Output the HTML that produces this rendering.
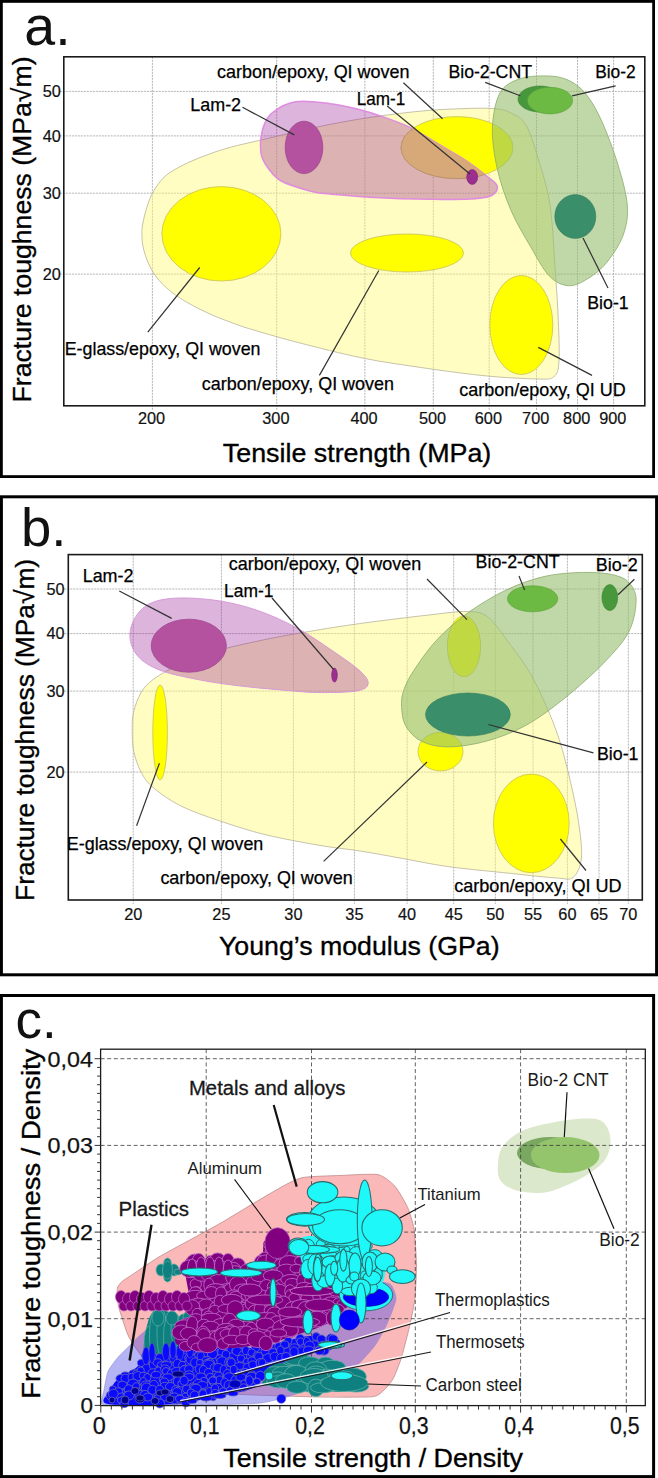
<!DOCTYPE html>
<html><head><meta charset="utf-8"><style>
html,body{margin:0;padding:0;background:#fff;}
body{width:658px;height:1478px;overflow:hidden;position:relative;}
.box{position:absolute;border:3px solid #000;box-sizing:border-box;}
svg{position:absolute;left:0;top:0;}
text{font-family:"Liberation Sans",sans-serif;}
</style></head><body>
<svg width="658" height="1478" viewBox="0 0 658 1478"><line x1="152.4" y1="56.8" x2="152.4" y2="409.8" stroke="#b4b4b4" stroke-width="1" stroke-dasharray="2,1"/><line x1="276.7" y1="56.8" x2="276.7" y2="409.8" stroke="#b4b4b4" stroke-width="1" stroke-dasharray="2,1"/><line x1="364.9" y1="56.8" x2="364.9" y2="409.8" stroke="#b4b4b4" stroke-width="1" stroke-dasharray="2,1"/><line x1="433.3" y1="56.8" x2="433.3" y2="409.8" stroke="#b4b4b4" stroke-width="1" stroke-dasharray="2,1"/><line x1="489.2" y1="56.8" x2="489.2" y2="409.8" stroke="#b4b4b4" stroke-width="1" stroke-dasharray="2,1"/><line x1="536.5" y1="56.8" x2="536.5" y2="409.8" stroke="#b4b4b4" stroke-width="1" stroke-dasharray="2,1"/><line x1="577.5" y1="56.8" x2="577.5" y2="409.8" stroke="#b4b4b4" stroke-width="1" stroke-dasharray="2,1"/><line x1="613.6" y1="56.8" x2="613.6" y2="409.8" stroke="#b4b4b4" stroke-width="1" stroke-dasharray="2,1"/><line x1="59.8" y1="91.4" x2="644.8" y2="91.4" stroke="#b4b4b4" stroke-width="1" stroke-dasharray="2,1"/><line x1="59.8" y1="135.9" x2="644.8" y2="135.9" stroke="#b4b4b4" stroke-width="1" stroke-dasharray="2,1"/><line x1="59.8" y1="193.2" x2="644.8" y2="193.2" stroke="#b4b4b4" stroke-width="1" stroke-dasharray="2,1"/><line x1="59.8" y1="274.1" x2="644.8" y2="274.1" stroke="#b4b4b4" stroke-width="1" stroke-dasharray="2,1"/><path d="M141.9,234.7 C141.8,229.5 142.2,226.0 143.5,220.0 C144.8,214.0 147.4,204.7 149.9,198.7 C152.4,192.7 155.2,188.1 158.4,183.8 C161.6,179.6 164.0,176.7 169.0,173.2 C174.0,169.7 181.4,165.8 188.2,162.6 C194.9,159.4 202.4,156.6 209.5,154.0 C216.6,151.4 221.8,149.6 230.7,147.2 C239.6,144.8 248.6,142.9 262.7,139.6 C276.8,136.3 298.8,130.9 315.0,127.5 C331.2,124.1 343.8,121.6 360.0,119.0 C376.2,116.4 396.5,113.7 412.0,112.0 C427.5,110.3 439.3,109.6 453.0,109.0 C466.7,108.4 484.2,107.8 494.0,108.6 C503.8,109.4 506.7,110.9 512.0,113.6 C517.3,116.3 521.7,117.6 526.0,125.0 C530.3,132.4 534.0,144.7 538.0,158.0 C542.0,171.3 547.2,186.8 550.0,205.0 C552.8,223.2 553.7,248.8 555.0,267.0 C556.3,285.2 557.3,298.3 558.0,314.0 C558.7,329.7 559.7,350.6 559.0,361.0 C558.3,371.4 557.5,373.5 554.0,376.5 C550.5,379.5 550.2,379.2 538.0,379.0 C525.8,378.8 502.2,377.6 481.0,375.4 C459.8,373.2 430.9,369.0 410.7,366.0 C390.5,363.0 378.4,361.3 360.0,357.5 C341.6,353.7 317.5,347.5 300.0,343.0 C282.5,338.5 265.8,333.6 255.0,330.4 C244.2,327.2 243.1,326.9 235.3,324.0 C227.5,321.1 217.1,317.4 208.0,313.1 C198.9,308.9 188.2,303.4 180.6,298.5 C173.0,293.6 167.3,288.8 162.4,283.9 C157.5,279.0 154.5,274.8 151.4,269.3 C148.3,263.8 145.7,256.9 144.1,251.1 C142.5,245.3 142.0,239.9 141.9,234.7Z" fill="rgba(255,250,119,0.45)" stroke="#b8b49a" stroke-width="0.8"/><ellipse cx="221.4" cy="233.8" rx="59.5" ry="47.2" fill="#ffff00" stroke="#c8c060" stroke-width="0.8" /><ellipse cx="407" cy="253" rx="56.5" ry="19" fill="#ffff00" stroke="#c8c060" stroke-width="0.8" /><ellipse cx="521.3" cy="325" rx="31.5" ry="49.5" fill="#ffff00" stroke="#c8c060" stroke-width="0.8" /><ellipse cx="457" cy="147.6" rx="56" ry="31" fill="#ffff00" stroke="#c8c060" stroke-width="0.8" /><clipPath id="cpA"><path d="M260.6,150.0 C260.2,144.0 261.1,134.2 263.0,128.0 C264.9,121.8 266.6,117.4 272.0,113.0 C277.4,108.6 285.9,103.3 295.6,101.8 C305.3,100.2 319.7,102.5 330.0,103.7 C340.3,104.9 348.3,106.8 357.4,109.1 C366.5,111.4 375.6,114.2 384.7,117.4 C393.8,120.6 402.9,123.8 412.0,128.3 C421.1,132.9 430.3,139.2 439.4,144.7 C448.5,150.2 458.6,155.6 466.8,161.1 C475.0,166.6 483.5,173.2 488.6,177.5 C493.7,181.8 497.4,183.9 497.4,187.1 C497.4,190.3 496.0,194.6 488.6,196.7 C481.2,198.8 470.3,199.2 453.0,199.4 C435.7,199.6 405.2,198.9 384.7,198.0 C364.2,197.1 342.3,195.1 330.0,194.0 C317.7,192.9 319.1,193.4 310.8,191.2 C302.5,188.9 288.0,185.1 280.4,180.5 C272.8,175.9 268.5,168.9 265.2,163.8 C261.9,158.7 261.0,156.0 260.6,150.0Z"/></clipPath><path d="M260.6,150.0 C260.2,144.0 261.1,134.2 263.0,128.0 C264.9,121.8 266.6,117.4 272.0,113.0 C277.4,108.6 285.9,103.3 295.6,101.8 C305.3,100.2 319.7,102.5 330.0,103.7 C340.3,104.9 348.3,106.8 357.4,109.1 C366.5,111.4 375.6,114.2 384.7,117.4 C393.8,120.6 402.9,123.8 412.0,128.3 C421.1,132.9 430.3,139.2 439.4,144.7 C448.5,150.2 458.6,155.6 466.8,161.1 C475.0,166.6 483.5,173.2 488.6,177.5 C493.7,181.8 497.4,183.9 497.4,187.1 C497.4,190.3 496.0,194.6 488.6,196.7 C481.2,198.8 470.3,199.2 453.0,199.4 C435.7,199.6 405.2,198.9 384.7,198.0 C364.2,197.1 342.3,195.1 330.0,194.0 C317.7,192.9 319.1,193.4 310.8,191.2 C302.5,188.9 288.0,185.1 280.4,180.5 C272.8,175.9 268.5,168.9 265.2,163.8 C261.9,158.7 261.0,156.0 260.6,150.0Z" fill="rgba(146,22,146,0.32)" stroke="#e08ce0" stroke-width="1.5"/><ellipse cx="457" cy="147.6" rx="56" ry="31" fill="#d7a878" stroke="#b89070" stroke-width="0.8" clip-path="url(#cpA)"/><path d="M492.4,128.0 C492.8,115.2 495.5,101.0 500.0,92.8 C504.5,84.6 511.9,81.8 519.2,79.0 C526.5,76.2 536.1,75.9 543.9,75.9 C551.6,75.9 558.9,76.3 565.7,79.1 C572.5,81.9 579.0,85.9 584.9,92.8 C590.8,99.7 595.8,108.3 601.3,120.2 C606.8,132.1 613.4,149.9 617.7,164.0 C622.0,178.1 626.4,193.2 627.3,205.0 C628.2,216.8 626.6,225.4 623.2,235.0 C619.8,244.6 612.7,255.1 606.8,262.4 C600.9,269.7 594.0,274.9 587.6,278.8 C581.2,282.7 574.9,286.2 568.5,285.7 C562.1,285.2 555.7,282.6 549.3,276.0 C542.9,269.4 536.6,256.9 530.2,246.0 C523.8,235.1 516.5,223.2 511.0,210.4 C505.5,197.6 500.5,183.1 497.4,169.4 C494.3,155.7 492.0,140.8 492.4,128.0Z" fill="rgba(150,190,110,0.6)" stroke="#8cac6c" stroke-width="0.8"/><ellipse cx="304" cy="147.4" rx="18.8" ry="26.2" fill="#b4529f" stroke="#a04890" stroke-width="0.8" /><ellipse cx="472.2" cy="177" rx="5.5" ry="7.4" fill="#9b2f8f" stroke="#802070" stroke-width="0.6" /><ellipse cx="575.3" cy="216.5" rx="20.5" ry="21.9" fill="#3a8f6a" stroke="#2f7a5a" stroke-width="0.6" /><ellipse cx="540" cy="99" rx="22" ry="13" fill="#47973c" stroke="#3a8030" stroke-width="0.6" /><ellipse cx="550" cy="100.6" rx="22.6" ry="13.3" fill="#6cb944" stroke="#5aa038" stroke-width="0.6" /><rect x="63.8" y="56.8" width="581.0" height="349.0" fill="none" stroke="#1a1a1a" stroke-width="1.6"/><line x1="242.5" y1="107.3" x2="294.3" y2="134.9" stroke="#333" stroke-width="1.2" /><line x1="387.2" y1="106" x2="470" y2="174" stroke="#333" stroke-width="1.2" /><line x1="403.4" y1="82.7" x2="442.6" y2="118.8" stroke="#333" stroke-width="1.2" /><line x1="485.2" y1="82.4" x2="520.3" y2="95.8" stroke="#333" stroke-width="1.2" /><line x1="615.6" y1="85.8" x2="572.1" y2="95.8" stroke="#333" stroke-width="1.2" /><line x1="608" y1="288" x2="583" y2="238" stroke="#333" stroke-width="1.2" /><line x1="147.8" y1="332.2" x2="199.7" y2="267.5" stroke="#333" stroke-width="1.2" /><line x1="319.4" y1="375.4" x2="378.8" y2="270.5" stroke="#333" stroke-width="1.2" /><line x1="592" y1="375.4" x2="538.3" y2="347.4" stroke="#333" stroke-width="1.2" /><text x="190.3" y="110.8" font-size="17.9" text-anchor="start" fill="#000" textLength="50.8" lengthAdjust="spacingAndGlyphs" stroke="#000" stroke-width="0.25">Lam-2</text><text x="217.0" y="78.2" font-size="17.9" text-anchor="start" fill="#000" textLength="192.6" lengthAdjust="spacingAndGlyphs" stroke="#000" stroke-width="0.25">carbon/epoxy, QI woven</text><text x="356.7" y="104.8" font-size="17.9" text-anchor="start" fill="#000" textLength="48.5" lengthAdjust="spacingAndGlyphs" stroke="#000" stroke-width="0.25">Lam-1</text><text x="448.4" y="77.6" font-size="17.9" text-anchor="start" fill="#000" textLength="83.6" lengthAdjust="spacingAndGlyphs" stroke="#000" stroke-width="0.25">Bio-2-CNT</text><text x="595.2" y="77.6" font-size="17.9" text-anchor="start" fill="#000" textLength="40.5" lengthAdjust="spacingAndGlyphs" stroke="#000" stroke-width="0.25">Bio-2</text><text x="587.2" y="308.8" font-size="17.9" text-anchor="start" fill="#000" textLength="41.5" lengthAdjust="spacingAndGlyphs" stroke="#000" stroke-width="0.25">Bio-1</text><text x="64.7" y="354.8" font-size="17.9" text-anchor="start" fill="#000" textLength="195.8" lengthAdjust="spacingAndGlyphs" stroke="#000" stroke-width="0.25">E-glass/epoxy, QI woven</text><text x="201.8" y="389.8" font-size="17.9" text-anchor="start" fill="#000" textLength="192.2" lengthAdjust="spacingAndGlyphs" stroke="#000" stroke-width="0.25">carbon/epoxy, QI woven</text><text x="459.3" y="395.6" font-size="17.9" text-anchor="start" fill="#000" textLength="166.5" lengthAdjust="spacingAndGlyphs" stroke="#000" stroke-width="0.25">carbon/epoxy, QI UD</text><text x="151.6" y="423.6" font-size="16.3" text-anchor="middle" fill="#111" stroke="#111" stroke-width="0.2">200</text><text x="275.9" y="423.6" font-size="16.3" text-anchor="middle" fill="#111" stroke="#111" stroke-width="0.2">300</text><text x="364.1" y="423.6" font-size="16.3" text-anchor="middle" fill="#111" stroke="#111" stroke-width="0.2">400</text><text x="432.5" y="423.6" font-size="16.3" text-anchor="middle" fill="#111" stroke="#111" stroke-width="0.2">500</text><text x="488.4" y="423.6" font-size="16.3" text-anchor="middle" fill="#111" stroke="#111" stroke-width="0.2">600</text><text x="535.7" y="423.6" font-size="16.3" text-anchor="middle" fill="#111" stroke="#111" stroke-width="0.2">700</text><text x="576.7" y="423.6" font-size="16.3" text-anchor="middle" fill="#111" stroke="#111" stroke-width="0.2">800</text><text x="612.8" y="423.6" font-size="16.3" text-anchor="middle" fill="#111" stroke="#111" stroke-width="0.2">900</text><text x="60.9" y="97.2" font-size="16.3" text-anchor="end" fill="#111" stroke="#111" stroke-width="0.2">50</text><text x="60.9" y="141.7" font-size="16.3" text-anchor="end" fill="#111" stroke="#111" stroke-width="0.2">40</text><text x="60.9" y="199.0" font-size="16.3" text-anchor="end" fill="#111" stroke="#111" stroke-width="0.2">30</text><text x="60.9" y="279.9" font-size="16.3" text-anchor="end" fill="#111" stroke="#111" stroke-width="0.2">20</text><text x="222.8" y="461.6" font-size="26.5" text-anchor="start" fill="#000" textLength="268.5" lengthAdjust="spacingAndGlyphs" stroke="#000" stroke-width="0.35">Tensile strength (MPa)</text><text x="0" y="0" font-size="26.5" text-anchor="start" fill="#000" textLength="346" lengthAdjust="spacingAndGlyphs" stroke="#000" stroke-width="0.35" transform="translate(31.2,402.5) rotate(-90)">Fracture toughness (MPa√m)</text><text x="24.3" y="44.6" font-size="55.5" text-anchor="start" fill="#111" >a.</text><line x1="133.2" y1="554.6" x2="133.2" y2="904.0" stroke="#b4b4b4" stroke-width="1" stroke-dasharray="2,1"/><line x1="221.4" y1="554.6" x2="221.4" y2="904.0" stroke="#b4b4b4" stroke-width="1" stroke-dasharray="2,1"/><line x1="293.4" y1="554.6" x2="293.4" y2="904.0" stroke="#b4b4b4" stroke-width="1" stroke-dasharray="2,1"/><line x1="354.4" y1="554.6" x2="354.4" y2="904.0" stroke="#b4b4b4" stroke-width="1" stroke-dasharray="2,1"/><line x1="407.1" y1="554.6" x2="407.1" y2="904.0" stroke="#b4b4b4" stroke-width="1" stroke-dasharray="2,1"/><line x1="453.7" y1="554.6" x2="453.7" y2="904.0" stroke="#b4b4b4" stroke-width="1" stroke-dasharray="2,1"/><line x1="495.3" y1="554.6" x2="495.3" y2="904.0" stroke="#b4b4b4" stroke-width="1" stroke-dasharray="2,1"/><line x1="533.0" y1="554.6" x2="533.0" y2="904.0" stroke="#b4b4b4" stroke-width="1" stroke-dasharray="2,1"/><line x1="567.4" y1="554.6" x2="567.4" y2="904.0" stroke="#b4b4b4" stroke-width="1" stroke-dasharray="2,1"/><line x1="599.0" y1="554.6" x2="599.0" y2="904.0" stroke="#b4b4b4" stroke-width="1" stroke-dasharray="2,1"/><line x1="628.3" y1="554.6" x2="628.3" y2="904.0" stroke="#b4b4b4" stroke-width="1" stroke-dasharray="2,1"/><line x1="64.3" y1="589.0" x2="642.3" y2="589.0" stroke="#b4b4b4" stroke-width="1" stroke-dasharray="2,1"/><line x1="64.3" y1="633.6" x2="642.3" y2="633.6" stroke="#b4b4b4" stroke-width="1" stroke-dasharray="2,1"/><line x1="64.3" y1="691.1" x2="642.3" y2="691.1" stroke="#b4b4b4" stroke-width="1" stroke-dasharray="2,1"/><line x1="64.3" y1="772.1" x2="642.3" y2="772.1" stroke="#b4b4b4" stroke-width="1" stroke-dasharray="2,1"/><path d="M132.2,730.0 C132.2,723.4 132.2,718.0 133.7,711.7 C135.2,705.4 138.2,697.3 141.4,692.0 C144.6,686.7 147.7,683.7 152.8,679.8 C157.9,675.9 164.3,672.1 171.8,668.4 C179.3,664.7 189.1,660.8 198.0,657.5 C206.9,654.2 214.2,651.5 225.0,648.6 C235.8,645.7 251.6,642.4 263.0,640.0 C274.4,637.6 280.7,636.4 293.4,634.2 C306.1,632.0 324.6,628.8 339.0,626.6 C353.4,624.4 365.0,622.8 380.0,620.9 C395.0,619.0 414.2,616.6 428.8,615.0 C443.4,613.4 457.6,611.1 467.5,611.5 C477.4,611.9 481.3,611.9 488.4,617.4 C495.5,622.9 503.5,635.6 510.3,644.7 C517.1,653.8 523.5,662.0 529.4,672.0 C535.3,682.0 540.8,693.5 545.8,704.9 C550.8,716.3 555.4,727.6 559.5,740.4 C563.6,753.2 567.2,767.8 570.4,781.5 C573.6,795.2 576.8,809.8 578.6,822.5 C580.4,835.2 582.3,848.9 581.4,858.0 C580.5,867.1 577.3,873.9 573.2,877.2 C569.1,880.5 568.7,878.8 556.8,878.0 C544.9,877.2 520.2,874.4 502.0,872.5 C483.8,870.6 464.4,868.9 447.4,866.5 C430.4,864.1 414.6,860.6 400.0,858.0 C385.4,855.4 373.3,853.1 360.0,851.0 C346.7,848.9 335.7,848.1 320.0,845.4 C304.3,842.7 282.5,838.8 265.9,834.8 C249.3,830.8 234.5,825.9 220.3,821.1 C206.1,816.3 192.0,811.5 180.8,805.9 C169.7,800.3 160.0,793.3 153.4,787.7 C146.8,782.1 144.6,778.6 141.3,772.5 C138.0,766.4 135.2,758.3 133.7,751.2 C132.2,744.1 132.2,736.6 132.2,730.0Z" fill="rgba(255,250,119,0.45)" stroke="#b8b49a" stroke-width="0.8"/><ellipse cx="160.1" cy="732.5" rx="7.3" ry="47.5" fill="#ffff00" stroke="#c8c060" stroke-width="0.8" /><ellipse cx="464" cy="646.3" rx="16.6" ry="30.4" fill="#ffff00" stroke="#c8c060" stroke-width="0.8" /><ellipse cx="440.5" cy="751.6" rx="22.5" ry="19.3" fill="#ffff00" stroke="#c8c060" stroke-width="0.8" /><ellipse cx="531.3" cy="823.4" rx="37.9" ry="49.3" fill="#ffff00" stroke="#c8c060" stroke-width="0.8" /><path d="M129.9,636.4 C129.6,629.8 132.2,622.2 135.8,616.6 C139.4,611.0 144.3,605.9 151.6,602.8 C158.8,599.7 168.1,598.3 179.3,598.0 C190.5,597.7 205.6,598.7 218.8,600.8 C232.0,602.9 245.1,606.1 258.3,610.7 C271.5,615.3 284.6,621.3 297.8,628.5 C311.0,635.7 326.8,646.9 337.3,654.1 C347.8,661.3 355.9,667.0 361.0,671.9 C366.1,676.8 368.8,680.6 368.1,683.8 C367.4,687.0 365.4,689.4 357.0,690.9 C348.6,692.4 330.7,692.7 317.5,692.5 C304.3,692.3 291.2,690.8 278.0,689.7 C264.8,688.6 251.7,687.4 238.5,685.8 C225.3,684.1 212.2,682.4 199.0,679.8 C185.8,677.2 169.7,674.0 159.5,670.0 C149.3,666.0 142.7,661.7 137.8,656.1 C132.9,650.5 130.2,643.0 129.9,636.4Z" fill="rgba(146,22,146,0.32)" stroke="#d89ad8" stroke-width="1"/><path d="M401.6,706.2 C401.9,712.0 402.3,719.7 405.5,725.5 C408.7,731.3 413.9,737.4 421.0,741.0 C428.1,744.6 437.1,746.9 448.1,746.9 C459.1,746.9 474.0,744.6 486.9,741.0 C499.8,737.4 512.8,732.6 525.7,725.5 C538.6,718.4 551.5,708.7 564.4,698.4 C577.3,688.1 592.5,674.5 603.2,663.5 C613.9,652.5 622.9,642.8 628.4,632.5 C633.9,622.2 635.8,609.6 636.1,601.5 C636.4,593.4 633.8,588.5 630.3,584.1 C626.8,579.7 622.5,577.2 614.8,575.2 C607.0,573.2 595.4,572.2 583.8,572.4 C572.2,572.6 557.9,573.4 545.0,576.3 C532.1,579.2 519.2,583.8 506.3,589.9 C493.4,596.0 479.1,604.7 467.5,613.1 C455.9,621.5 445.5,630.6 436.5,640.3 C427.5,650.0 418.8,662.9 413.3,671.3 C407.8,679.7 405.6,684.9 403.6,690.7 C401.7,696.5 401.3,700.4 401.6,706.2Z" fill="rgba(150,190,110,0.6)" stroke="#8cac6c" stroke-width="0.8"/><ellipse cx="188.8" cy="645.7" rx="37.6" ry="26.5" fill="#b4529f" stroke="#a04890" stroke-width="0.8" /><ellipse cx="334.5" cy="675.1" rx="2.8" ry="7" fill="#9b2f8f" stroke="#802070" stroke-width="0.6" /><ellipse cx="467.9" cy="714.5" rx="42.4" ry="21.5" fill="#3a8f6a" stroke="#2f7a5a" stroke-width="0.6" /><ellipse cx="532.6" cy="598.8" rx="25.2" ry="13" fill="#6cb944" stroke="#5aa038" stroke-width="0.6" /><ellipse cx="609.8" cy="597.6" rx="7.9" ry="13" fill="#47973c" stroke="#3a8030" stroke-width="0.6" /><rect x="68.3" y="554.6" width="574.0" height="345.4" fill="none" stroke="#1a1a1a" stroke-width="1.6"/><line x1="119.3" y1="591" x2="171.7" y2="618.4" stroke="#333" stroke-width="1.2" /><line x1="272" y1="598" x2="333.6" y2="669.5" stroke="#333" stroke-width="1.2" /><line x1="427" y1="579" x2="467" y2="619.7" stroke="#333" stroke-width="1.2" /><line x1="519" y1="576" x2="524.6" y2="590" stroke="#333" stroke-width="1.2" /><line x1="634.4" y1="579.2" x2="618" y2="594.7" stroke="#333" stroke-width="1.2" /><line x1="593.4" y1="752.8" x2="488.4" y2="724.5" stroke="#333" stroke-width="1.2" /><line x1="136.6" y1="825.8" x2="159.4" y2="763.3" stroke="#333" stroke-width="1.2" /><line x1="323.6" y1="861.4" x2="427" y2="762" stroke="#333" stroke-width="1.2" /><line x1="586" y1="870.5" x2="560.4" y2="839" stroke="#333" stroke-width="1.2" /><text x="82.7" y="581.5" font-size="17.9" text-anchor="start" fill="#000" textLength="50.8" lengthAdjust="spacingAndGlyphs" stroke="#000" stroke-width="0.25">Lam-2</text><text x="228.8" y="570" font-size="17.9" text-anchor="start" fill="#000" textLength="192.4" lengthAdjust="spacingAndGlyphs" stroke="#000" stroke-width="0.25">carbon/epoxy, QI woven</text><text x="224" y="596.5" font-size="17.9" text-anchor="start" fill="#000" textLength="49.4" lengthAdjust="spacingAndGlyphs" stroke="#000" stroke-width="0.25">Lam-1</text><text x="475.6" y="567.5" font-size="17.9" text-anchor="start" fill="#000" textLength="84" lengthAdjust="spacingAndGlyphs" stroke="#000" stroke-width="0.25">Bio-2-CNT</text><text x="595.7" y="570.5" font-size="17.9" text-anchor="start" fill="#000" textLength="42" lengthAdjust="spacingAndGlyphs" stroke="#000" stroke-width="0.25">Bio-2</text><text x="597" y="759.8" font-size="17.9" text-anchor="start" fill="#000" textLength="41.5" lengthAdjust="spacingAndGlyphs" stroke="#000" stroke-width="0.25">Bio-1</text><text x="66.8" y="849.5" font-size="17.9" text-anchor="start" fill="#000" textLength="196.5" lengthAdjust="spacingAndGlyphs" stroke="#000" stroke-width="0.25">E-glass/epoxy, QI woven</text><text x="160.4" y="883.7" font-size="17.9" text-anchor="start" fill="#000" textLength="192.4" lengthAdjust="spacingAndGlyphs" stroke="#000" stroke-width="0.25">carbon/epoxy, QI woven</text><text x="454.2" y="892.3" font-size="17.9" text-anchor="start" fill="#000" textLength="167.5" lengthAdjust="spacingAndGlyphs" stroke="#000" stroke-width="0.25">carbon/epoxy, QI UD</text><text x="133.2" y="920.4" font-size="16.3" text-anchor="middle" fill="#111" stroke="#111" stroke-width="0.2">20</text><text x="221.4" y="920.4" font-size="16.3" text-anchor="middle" fill="#111" stroke="#111" stroke-width="0.2">25</text><text x="293.4" y="920.4" font-size="16.3" text-anchor="middle" fill="#111" stroke="#111" stroke-width="0.2">30</text><text x="354.4" y="920.4" font-size="16.3" text-anchor="middle" fill="#111" stroke="#111" stroke-width="0.2">35</text><text x="407.1" y="920.4" font-size="16.3" text-anchor="middle" fill="#111" stroke="#111" stroke-width="0.2">40</text><text x="453.7" y="920.4" font-size="16.3" text-anchor="middle" fill="#111" stroke="#111" stroke-width="0.2">45</text><text x="495.3" y="920.4" font-size="16.3" text-anchor="middle" fill="#111" stroke="#111" stroke-width="0.2">50</text><text x="533.0" y="920.4" font-size="16.3" text-anchor="middle" fill="#111" stroke="#111" stroke-width="0.2">55</text><text x="567.4" y="920.4" font-size="16.3" text-anchor="middle" fill="#111" stroke="#111" stroke-width="0.2">60</text><text x="599.0" y="920.4" font-size="16.3" text-anchor="middle" fill="#111" stroke="#111" stroke-width="0.2">65</text><text x="628.3" y="920.4" font-size="16.3" text-anchor="middle" fill="#111" stroke="#111" stroke-width="0.2">70</text><text x="64.6" y="594.8" font-size="16.3" text-anchor="end" fill="#111" stroke="#111" stroke-width="0.2">50</text><text x="64.6" y="639.4" font-size="16.3" text-anchor="end" fill="#111" stroke="#111" stroke-width="0.2">40</text><text x="64.6" y="696.9" font-size="16.3" text-anchor="end" fill="#111" stroke="#111" stroke-width="0.2">30</text><text x="64.6" y="777.9" font-size="16.3" text-anchor="end" fill="#111" stroke="#111" stroke-width="0.2">20</text><text x="219" y="955" font-size="26.5" text-anchor="start" fill="#000" textLength="280.6" lengthAdjust="spacingAndGlyphs" stroke="#000" stroke-width="0.35">Young’s modulus (GPa)</text><text x="0" y="0" font-size="26.5" text-anchor="start" fill="#000" textLength="342" lengthAdjust="spacingAndGlyphs" stroke="#000" stroke-width="0.35" transform="translate(34.2,900.9) rotate(-90)">Fracture toughness (MPa√m)</text><text x="21" y="545.8" font-size="54.5" text-anchor="start" fill="#111" >b.</text><path d="M498.0,1163.0 C498.5,1157.3 499.3,1151.2 503.0,1146.0 C506.7,1140.8 513.0,1135.7 520.0,1132.0 C527.0,1128.3 534.5,1126.2 545.0,1124.0 C555.5,1121.8 573.3,1118.8 583.0,1118.5 C592.7,1118.2 598.4,1118.4 603.0,1122.0 C607.6,1125.6 610.2,1133.7 610.5,1140.0 C610.8,1146.3 609.2,1154.0 605.0,1160.0 C600.8,1166.0 592.5,1171.3 585.0,1176.0 C577.5,1180.7 567.5,1185.2 560.0,1188.0 C552.5,1190.8 547.5,1192.7 540.0,1193.0 C532.5,1193.3 521.7,1192.2 515.0,1190.0 C508.3,1187.8 502.8,1184.5 500.0,1180.0 C497.2,1175.5 497.5,1168.7 498.0,1163.0Z" fill="#dce8cc"/><ellipse cx="550" cy="1153" rx="33" ry="16" fill="#7aa860" stroke="none" stroke-width="1" /><ellipse cx="565.2" cy="1155.1" rx="34.3" ry="18" fill="#94c46c" stroke="none" stroke-width="1" /><path d="M117.3,1288.3 C117.7,1286.0 120.8,1282.7 122.0,1281.5 C123.2,1280.3 125.6,1279.1 129.2,1276.7 C132.8,1274.3 151.8,1261.3 157.9,1257.6 C164.0,1253.9 183.4,1243.5 189.8,1240.0 C196.2,1236.5 215.3,1226.2 221.7,1222.5 C228.1,1218.8 247.2,1207.1 253.6,1203.3 C260.0,1199.5 280.7,1187.3 285.5,1184.8 C290.3,1182.2 298.1,1178.7 301.5,1177.8 C304.9,1176.9 316.1,1176.4 320.0,1176.2 C323.9,1176.0 334.2,1175.7 340.0,1175.5 C345.8,1175.3 372.5,1173.5 378.0,1174.6 C383.5,1175.7 392.0,1183.0 395.0,1186.3 C398.0,1189.6 405.8,1203.3 407.7,1207.6 C409.6,1211.8 413.1,1223.1 414.0,1228.8 C414.9,1234.5 416.4,1257.9 416.5,1265.0 C416.6,1272.1 415.5,1293.5 414.7,1300.0 C413.9,1306.5 410.2,1323.7 408.8,1329.6 C407.4,1335.5 402.5,1354.4 400.9,1359.3 C399.3,1364.2 394.8,1375.8 393.0,1379.0 C391.2,1382.2 385.3,1389.1 383.1,1390.9 C380.9,1392.7 378.6,1396.2 371.3,1396.8 C364.0,1397.4 325.1,1397.2 310.0,1396.8 C294.9,1396.4 233.5,1394.7 220.0,1393.0 C206.5,1391.3 182.5,1383.3 175.0,1380.0 C167.5,1376.7 149.6,1364.2 145.0,1360.0 C140.4,1355.8 131.3,1341.2 129.2,1337.5 C127.1,1333.8 124.8,1326.3 123.7,1323.0 C122.6,1319.7 118.8,1308.2 118.2,1304.7 C117.6,1301.2 116.9,1290.6 117.3,1288.3Z" fill="#fbb8b8" stroke="#c08a8a" stroke-width="0.8"/><path d="M102.0,1404.0 C100.4,1402.5 103.4,1393.3 104.0,1390.0 C104.6,1386.7 106.6,1374.7 108.0,1371.4 C109.4,1368.2 115.6,1360.1 117.8,1357.5 C120.0,1354.9 127.4,1347.9 129.6,1345.7 C131.8,1343.5 137.5,1337.6 139.5,1335.8 C141.5,1334.0 145.9,1329.8 150.0,1328.0 C154.1,1326.2 172.0,1320.0 180.0,1318.0 C188.0,1316.0 220.0,1310.0 230.0,1308.0 C240.0,1306.0 270.0,1300.0 280.0,1298.0 C290.0,1296.0 321.0,1289.6 330.0,1288.0 C339.0,1286.4 364.0,1282.4 370.0,1282.0 C376.0,1281.6 387.4,1282.3 390.0,1284.0 C392.6,1285.7 396.3,1295.0 396.0,1299.0 C395.7,1303.0 389.1,1319.3 387.0,1324.0 C384.9,1328.7 377.8,1341.6 375.0,1345.5 C372.2,1349.4 362.3,1360.4 359.4,1363.2 C356.5,1366.0 349.5,1370.9 345.6,1373.1 C341.7,1375.3 325.6,1382.7 320.0,1385.0 C314.4,1387.3 296.0,1394.2 290.0,1396.0 C284.0,1397.8 269.0,1402.1 260.0,1403.0 C251.0,1403.9 214.0,1404.8 200.0,1405.0 C186.0,1405.2 129.8,1405.1 120.0,1405.0 C110.2,1404.9 103.6,1405.5 102.0,1404.0Z" fill="rgba(80,81,232,0.43)" stroke="#8c8cd0" stroke-width="0.6"/><line x1="206.2" y1="1049.2" x2="206.2" y2="1405.6" stroke="rgba(60,60,60,0.8)" stroke-width="1" stroke-dasharray="4,2.6"/><line x1="311.5" y1="1049.2" x2="311.5" y2="1405.6" stroke="rgba(60,60,60,0.8)" stroke-width="1" stroke-dasharray="4,2.6"/><line x1="415.3" y1="1049.2" x2="415.3" y2="1405.6" stroke="rgba(60,60,60,0.8)" stroke-width="1" stroke-dasharray="4,2.6"/><line x1="520.6" y1="1049.2" x2="520.6" y2="1405.6" stroke="rgba(60,60,60,0.8)" stroke-width="1" stroke-dasharray="4,2.6"/><line x1="626.3" y1="1049.2" x2="626.3" y2="1405.6" stroke="rgba(60,60,60,0.8)" stroke-width="1" stroke-dasharray="4,2.6"/><line x1="100.6" y1="1318.7" x2="645.3" y2="1318.7" stroke="rgba(60,60,60,0.8)" stroke-width="1" stroke-dasharray="4,2.6"/><line x1="100.6" y1="1232.1" x2="645.3" y2="1232.1" stroke="rgba(60,60,60,0.8)" stroke-width="1" stroke-dasharray="4,2.6"/><line x1="100.6" y1="1145.4" x2="645.3" y2="1145.4" stroke="rgba(60,60,60,0.8)" stroke-width="1" stroke-dasharray="4,2.6"/><line x1="100.6" y1="1058.7" x2="645.3" y2="1058.7" stroke="rgba(60,60,60,0.8)" stroke-width="1" stroke-dasharray="4,2.6"/><ellipse cx="167.5" cy="1264" rx="4" ry="6" fill="#0f8080" stroke="#5fb0a8" stroke-width="0.7" /><ellipse cx="167.5" cy="1276" rx="4" ry="6" fill="#0f8080" stroke="#5fb0a8" stroke-width="0.7" /><ellipse cx="161" cy="1270" rx="5" ry="6" fill="#0f8080" stroke="#5fb0a8" stroke-width="0.7" /><ellipse cx="174" cy="1270" rx="5" ry="6" fill="#0f8080" stroke="#5fb0a8" stroke-width="0.7" /><ellipse cx="167.5" cy="1270" rx="5" ry="9" fill="#0f8080" stroke="#5fb0a8" stroke-width="0.7" /><ellipse cx="178" cy="1272" rx="4" ry="3" fill="#0f8080" stroke="#5fb0a8" stroke-width="0.7" /><path d="M143.5,1352.0 C143.5,1347.0 144.6,1336.5 146.0,1330.0 C147.4,1323.5 149.3,1316.3 152.0,1313.0 C154.7,1309.7 158.2,1309.7 162.0,1310.0 C165.8,1310.3 171.0,1313.0 175.0,1315.0 C179.0,1317.0 183.8,1317.0 186.0,1322.0 C188.2,1327.0 189.0,1338.7 188.0,1345.0 C187.0,1351.3 184.7,1357.2 180.0,1360.0 C175.3,1362.8 165.7,1362.0 160.0,1362.0 C154.3,1362.0 148.8,1361.7 146.0,1360.0 C143.2,1358.3 143.5,1357.0 143.5,1352.0Z" fill="#0f8080"/><ellipse cx="149" cy="1343" rx="5" ry="17" fill="#0f8080" stroke="#5fb0a8" stroke-width="0.7" /><ellipse cx="155" cy="1335" rx="5.5" ry="25" fill="#0f8080" stroke="#5fb0a8" stroke-width="0.7" /><ellipse cx="162" cy="1334" rx="5" ry="24" fill="#0f8080" stroke="#5fb0a8" stroke-width="0.7" /><ellipse cx="169" cy="1337" rx="5.5" ry="22" fill="#0f8080" stroke="#5fb0a8" stroke-width="0.7" /><ellipse cx="176" cy="1330" rx="5" ry="16" fill="#0f8080" stroke="#5fb0a8" stroke-width="0.7" /><ellipse cx="182" cy="1334" rx="4.5" ry="14" fill="#0f8080" stroke="#5fb0a8" stroke-width="0.7" /><ellipse cx="158" cy="1318" rx="6" ry="8" fill="#0f8080" stroke="#5fb0a8" stroke-width="0.7" /><ellipse cx="172" cy="1318" rx="6" ry="7" fill="#0f8080" stroke="#5fb0a8" stroke-width="0.7" /><ellipse cx="183" cy="1322" rx="5" ry="8" fill="#0f8080" stroke="#5fb0a8" stroke-width="0.7" /><ellipse cx="188" cy="1318" rx="5" ry="7" fill="#0f8080" stroke="#5fb0a8" stroke-width="0.7" /><path d="M262.0,1384.0 C260.7,1381.6 268.3,1377.3 272.0,1372.0 C275.7,1366.7 279.4,1354.7 284.0,1352.0 C288.6,1349.3 295.2,1354.3 299.4,1356.0 C303.6,1357.7 304.4,1360.7 309.3,1362.0 C314.2,1363.3 323.7,1362.8 329.0,1364.0 C334.3,1365.2 336.4,1367.2 340.9,1369.0 C345.4,1370.8 352.5,1372.9 356.0,1375.0 C359.5,1377.1 362.0,1379.2 362.0,1381.4 C362.0,1383.7 359.9,1386.7 356.0,1388.5 C352.1,1390.3 346.7,1391.9 338.9,1392.0 C331.1,1392.1 319.2,1390.2 309.3,1389.3 C299.4,1388.3 287.5,1387.2 279.6,1386.3 C271.7,1385.4 263.3,1386.4 262.0,1384.0Z" fill="#0f8080"/><ellipse cx="279.7" cy="1365.8" rx="9.3" ry="7.3" fill="#0f8080" stroke="#5fb0a8" stroke-width="0.8" /><ellipse cx="293.7" cy="1360.5" rx="11.8" ry="5.3" fill="#0f8080" stroke="#5fb0a8" stroke-width="0.8" /><ellipse cx="296.7" cy="1358.5" rx="12.8" ry="6.7" fill="#0f8080" stroke="#5fb0a8" stroke-width="0.8" /><ellipse cx="309.8" cy="1363.0" rx="11.2" ry="6.2" fill="#0f8080" stroke="#5fb0a8" stroke-width="0.8" /><ellipse cx="325.5" cy="1364.4" rx="9.7" ry="7.3" fill="#0f8080" stroke="#5fb0a8" stroke-width="0.8" /><ellipse cx="332.3" cy="1366.5" rx="13.1" ry="6.2" fill="#0f8080" stroke="#5fb0a8" stroke-width="0.8" /><ellipse cx="275.2" cy="1372.9" rx="14.1" ry="6.3" fill="#0f8080" stroke="#5fb0a8" stroke-width="0.8" /><ellipse cx="284.3" cy="1373.1" rx="12.1" ry="6.8" fill="#0f8080" stroke="#5fb0a8" stroke-width="0.8" /><ellipse cx="296.1" cy="1377.3" rx="11.3" ry="7.7" fill="#0f8080" stroke="#5fb0a8" stroke-width="0.8" /><ellipse cx="296.7" cy="1374.4" rx="12.5" ry="9.0" fill="#0f8080" stroke="#5fb0a8" stroke-width="0.8" /><ellipse cx="315.9" cy="1369.4" rx="10.7" ry="7.7" fill="#0f8080" stroke="#5fb0a8" stroke-width="0.8" /><ellipse cx="316.3" cy="1371.5" rx="9.2" ry="5.5" fill="#0f8080" stroke="#5fb0a8" stroke-width="0.8" /><ellipse cx="326.7" cy="1375.2" rx="8.9" ry="6.0" fill="#0f8080" stroke="#5fb0a8" stroke-width="0.8" /><ellipse cx="340.7" cy="1376.5" rx="8.6" ry="6.8" fill="#0f8080" stroke="#5fb0a8" stroke-width="0.8" /><ellipse cx="352.6" cy="1376.6" rx="13.7" ry="8.5" fill="#0f8080" stroke="#5fb0a8" stroke-width="0.8" /><ellipse cx="277.5" cy="1377.8" rx="9.2" ry="5.9" fill="#0f8080" stroke="#5fb0a8" stroke-width="0.8" /><ellipse cx="278.8" cy="1381.8" rx="12.1" ry="6.1" fill="#0f8080" stroke="#5fb0a8" stroke-width="0.8" /><ellipse cx="286.0" cy="1381.0" rx="10.6" ry="7.3" fill="#0f8080" stroke="#5fb0a8" stroke-width="0.8" /><ellipse cx="307.4" cy="1384.3" rx="11.6" ry="7.5" fill="#0f8080" stroke="#5fb0a8" stroke-width="0.8" /><ellipse cx="314.1" cy="1376.6" rx="14.3" ry="8.1" fill="#0f8080" stroke="#5fb0a8" stroke-width="0.8" /><ellipse cx="326.5" cy="1385.6" rx="10.7" ry="6.6" fill="#0f8080" stroke="#5fb0a8" stroke-width="0.8" /><ellipse cx="327.2" cy="1383.6" rx="8.4" ry="5.3" fill="#0f8080" stroke="#5fb0a8" stroke-width="0.8" /><ellipse cx="338.5" cy="1377.9" rx="10.4" ry="5.2" fill="#0f8080" stroke="#5fb0a8" stroke-width="0.8" /><ellipse cx="346.0" cy="1377.8" rx="8.7" ry="6.5" fill="#0f8080" stroke="#5fb0a8" stroke-width="0.8" /><ellipse cx="356.3" cy="1386.5" rx="12.3" ry="5.6" fill="#0f8080" stroke="#5fb0a8" stroke-width="0.8" /><ellipse cx="297.0" cy="1387.2" rx="10.4" ry="6.1" fill="#0f8080" stroke="#5fb0a8" stroke-width="0.8" /><ellipse cx="315.9" cy="1387.9" rx="8.2" ry="8.8" fill="#0f8080" stroke="#5fb0a8" stroke-width="0.8" /><ellipse cx="322.3" cy="1387.8" rx="11.8" ry="5.1" fill="#0f8080" stroke="#5fb0a8" stroke-width="0.8" /><path d="M108.0,1404.0 C96.5,1401.7 109.7,1393.8 111.0,1390.0 C112.3,1386.2 113.2,1383.8 116.0,1381.0 C118.8,1378.2 124.3,1375.5 128.0,1373.0 C131.7,1370.5 135.5,1368.7 138.0,1366.0 C140.5,1363.3 141.3,1359.3 143.0,1357.0 C144.7,1354.7 145.7,1352.0 148.0,1352.0 C150.3,1352.0 153.5,1357.5 157.0,1357.0 C160.5,1356.5 164.0,1349.8 169.0,1349.0 C174.0,1348.2 180.7,1352.5 187.0,1352.0 C193.3,1351.5 199.8,1347.0 207.0,1346.0 C214.2,1345.0 222.8,1345.7 230.0,1346.0 C237.2,1346.3 243.3,1348.2 250.0,1348.0 C256.7,1347.8 263.3,1346.3 270.0,1345.0 C276.7,1343.7 283.3,1341.5 290.0,1340.0 C296.7,1338.5 303.0,1336.3 310.0,1336.0 C317.0,1335.7 327.0,1337.0 332.0,1338.0 C337.0,1339.0 340.3,1340.0 340.0,1342.0 C339.7,1344.0 335.0,1348.3 330.0,1350.0 C325.0,1351.7 315.8,1351.0 310.0,1352.0 C304.2,1353.0 300.0,1354.3 295.0,1356.0 C290.0,1357.7 285.0,1359.7 280.0,1362.0 C275.0,1364.3 268.7,1366.2 265.0,1370.0 C261.3,1373.8 262.2,1381.3 258.0,1385.0 C253.8,1388.7 246.3,1390.2 240.0,1392.0 C233.7,1393.8 226.7,1394.7 220.0,1396.0 C213.3,1397.3 206.7,1398.7 200.0,1400.0 C193.3,1401.3 195.3,1403.3 180.0,1404.0 C164.7,1404.7 119.5,1406.3 108.0,1404.0Z" fill="#0a0aff"/><ellipse cx="300.2" cy="1339.1" rx="4.4" ry="4.8" fill="#0a0aff" stroke="#6464b8" stroke-width="0.9" /><ellipse cx="316.1" cy="1336.6" rx="4.0" ry="4.0" fill="#0a0aff" stroke="#6464b8" stroke-width="0.9" /><ellipse cx="321.3" cy="1339.0" rx="4.2" ry="4.0" fill="#0a0aff" stroke="#6464b8" stroke-width="0.9" /><ellipse cx="330.6" cy="1338.9" rx="4.3" ry="4.9" fill="#0a0aff" stroke="#6464b8" stroke-width="0.9" /><ellipse cx="285.5" cy="1344.4" rx="3.8" ry="4.0" fill="#0a0aff" stroke="#6464b8" stroke-width="0.9" /><ellipse cx="288.1" cy="1340.8" rx="3.9" ry="3.8" fill="#0a0aff" stroke="#6464b8" stroke-width="0.9" /><ellipse cx="300.4" cy="1341.6" rx="3.5" ry="3.8" fill="#0a0aff" stroke="#6464b8" stroke-width="0.9" /><ellipse cx="306.9" cy="1342.1" rx="3.6" ry="5.0" fill="#0a0aff" stroke="#6464b8" stroke-width="0.9" /><ellipse cx="314.1" cy="1345.4" rx="3.7" ry="3.7" fill="#0a0aff" stroke="#6464b8" stroke-width="0.9" /><ellipse cx="314.7" cy="1344.0" rx="4.0" ry="3.4" fill="#0a0aff" stroke="#6464b8" stroke-width="0.9" /><ellipse cx="323.4" cy="1345.0" rx="5.1" ry="3.7" fill="#0a0aff" stroke="#6464b8" stroke-width="0.9" /><ellipse cx="327.5" cy="1345.0" rx="4.6" ry="4.5" fill="#0a0aff" stroke="#6464b8" stroke-width="0.9" /><ellipse cx="333.0" cy="1338.8" rx="4.9" ry="4.0" fill="#0a0aff" stroke="#6464b8" stroke-width="0.9" /><ellipse cx="199.7" cy="1348.4" rx="3.9" ry="4.1" fill="#0a0aff" stroke="#6464b8" stroke-width="0.9" /><ellipse cx="212.3" cy="1347.5" rx="4.5" ry="4.7" fill="#0a0aff" stroke="#6464b8" stroke-width="0.9" /><ellipse cx="215.2" cy="1348.0" rx="4.9" ry="5.0" fill="#0a0aff" stroke="#6464b8" stroke-width="0.9" /><ellipse cx="220.9" cy="1350.4" rx="4.9" ry="4.3" fill="#0a0aff" stroke="#6464b8" stroke-width="0.9" /><ellipse cx="227.3" cy="1346.9" rx="3.6" ry="3.4" fill="#0a0aff" stroke="#6464b8" stroke-width="0.9" /><ellipse cx="230.9" cy="1349.7" rx="4.0" ry="3.5" fill="#0a0aff" stroke="#6464b8" stroke-width="0.9" /><ellipse cx="237.0" cy="1350.5" rx="5.2" ry="4.4" fill="#0a0aff" stroke="#6464b8" stroke-width="0.9" /><ellipse cx="255.5" cy="1347.6" rx="4.0" ry="4.9" fill="#0a0aff" stroke="#6464b8" stroke-width="0.9" /><ellipse cx="267.4" cy="1348.3" rx="4.0" ry="4.9" fill="#0a0aff" stroke="#6464b8" stroke-width="0.9" /><ellipse cx="268.6" cy="1347.0" rx="3.5" ry="3.9" fill="#0a0aff" stroke="#6464b8" stroke-width="0.9" /><ellipse cx="275.8" cy="1348.0" rx="3.9" ry="4.1" fill="#0a0aff" stroke="#6464b8" stroke-width="0.9" /><ellipse cx="278.4" cy="1346.3" rx="3.7" ry="3.9" fill="#0a0aff" stroke="#6464b8" stroke-width="0.9" /><ellipse cx="284.7" cy="1344.6" rx="4.1" ry="3.6" fill="#0a0aff" stroke="#6464b8" stroke-width="0.9" /><ellipse cx="294.6" cy="1348.2" rx="5.0" ry="4.4" fill="#0a0aff" stroke="#6464b8" stroke-width="0.9" /><ellipse cx="301.6" cy="1350.7" rx="4.3" ry="3.8" fill="#0a0aff" stroke="#6464b8" stroke-width="0.9" /><ellipse cx="309.5" cy="1345.5" rx="4.9" ry="4.4" fill="#0a0aff" stroke="#6464b8" stroke-width="0.9" /><ellipse cx="308.7" cy="1350.4" rx="5.3" ry="4.3" fill="#0a0aff" stroke="#6464b8" stroke-width="0.9" /><ellipse cx="319.7" cy="1350.2" rx="3.8" ry="4.1" fill="#0a0aff" stroke="#6464b8" stroke-width="0.9" /><ellipse cx="324.0" cy="1350.4" rx="5.1" ry="4.7" fill="#0a0aff" stroke="#6464b8" stroke-width="0.9" /><ellipse cx="146.1" cy="1355.8" rx="4.5" ry="4.2" fill="#0a0aff" stroke="#6464b8" stroke-width="0.9" /><ellipse cx="169.7" cy="1351.9" rx="5.0" ry="5.0" fill="#0a0aff" stroke="#6464b8" stroke-width="0.9" /><ellipse cx="174.0" cy="1353.2" rx="4.5" ry="4.4" fill="#0a0aff" stroke="#6464b8" stroke-width="0.9" /><ellipse cx="181.9" cy="1354.8" rx="4.8" ry="3.3" fill="#0a0aff" stroke="#6464b8" stroke-width="0.9" /><ellipse cx="183.5" cy="1352.2" rx="5.0" ry="3.7" fill="#0a0aff" stroke="#6464b8" stroke-width="0.9" /><ellipse cx="192.5" cy="1350.5" rx="3.6" ry="3.7" fill="#0a0aff" stroke="#6464b8" stroke-width="0.9" /><ellipse cx="199.2" cy="1355.4" rx="4.9" ry="3.7" fill="#0a0aff" stroke="#6464b8" stroke-width="0.9" /><ellipse cx="204.1" cy="1353.7" rx="4.4" ry="3.4" fill="#0a0aff" stroke="#6464b8" stroke-width="0.9" /><ellipse cx="212.8" cy="1351.8" rx="5.5" ry="4.9" fill="#0a0aff" stroke="#6464b8" stroke-width="0.9" /><ellipse cx="212.5" cy="1353.7" rx="5.1" ry="4.9" fill="#0a0aff" stroke="#6464b8" stroke-width="0.9" /><ellipse cx="221.6" cy="1352.3" rx="3.9" ry="4.9" fill="#0a0aff" stroke="#6464b8" stroke-width="0.9" /><ellipse cx="225.9" cy="1354.6" rx="3.8" ry="4.1" fill="#0a0aff" stroke="#6464b8" stroke-width="0.9" /><ellipse cx="237.3" cy="1351.4" rx="5.1" ry="4.1" fill="#0a0aff" stroke="#6464b8" stroke-width="0.9" /><ellipse cx="242.8" cy="1355.5" rx="4.0" ry="4.8" fill="#0a0aff" stroke="#6464b8" stroke-width="0.9" /><ellipse cx="245.9" cy="1350.6" rx="3.5" ry="4.1" fill="#0a0aff" stroke="#6464b8" stroke-width="0.9" /><ellipse cx="251.6" cy="1352.6" rx="3.8" ry="3.8" fill="#0a0aff" stroke="#6464b8" stroke-width="0.9" /><ellipse cx="256.7" cy="1356.4" rx="3.5" ry="4.6" fill="#0a0aff" stroke="#6464b8" stroke-width="0.9" /><ellipse cx="266.4" cy="1351.3" rx="5.4" ry="4.5" fill="#0a0aff" stroke="#6464b8" stroke-width="0.9" /><ellipse cx="272.9" cy="1352.5" rx="4.2" ry="3.9" fill="#0a0aff" stroke="#6464b8" stroke-width="0.9" /><ellipse cx="279.6" cy="1354.6" rx="4.2" ry="4.0" fill="#0a0aff" stroke="#6464b8" stroke-width="0.9" /><ellipse cx="280.4" cy="1350.7" rx="3.7" ry="4.7" fill="#0a0aff" stroke="#6464b8" stroke-width="0.9" /><ellipse cx="286.5" cy="1357.1" rx="4.0" ry="3.7" fill="#0a0aff" stroke="#6464b8" stroke-width="0.9" /><ellipse cx="294.1" cy="1351.8" rx="4.2" ry="4.9" fill="#0a0aff" stroke="#6464b8" stroke-width="0.9" /><ellipse cx="319.6" cy="1350.8" rx="5.0" ry="4.0" fill="#0a0aff" stroke="#6464b8" stroke-width="0.9" /><ellipse cx="141.9" cy="1362.9" rx="4.5" ry="3.6" fill="#0a0aff" stroke="#6464b8" stroke-width="0.9" /><ellipse cx="152.9" cy="1363.6" rx="4.4" ry="3.5" fill="#0a0aff" stroke="#6464b8" stroke-width="0.9" /><ellipse cx="153.8" cy="1357.1" rx="4.2" ry="3.4" fill="#0a0aff" stroke="#6464b8" stroke-width="0.9" /><ellipse cx="160.1" cy="1358.3" rx="4.6" ry="4.8" fill="#0a0aff" stroke="#6464b8" stroke-width="0.9" /><ellipse cx="169.8" cy="1359.4" rx="4.3" ry="4.1" fill="#0a0aff" stroke="#6464b8" stroke-width="0.9" /><ellipse cx="173.1" cy="1358.8" rx="3.6" ry="3.7" fill="#0a0aff" stroke="#6464b8" stroke-width="0.9" /><ellipse cx="183.4" cy="1357.3" rx="4.5" ry="4.3" fill="#0a0aff" stroke="#6464b8" stroke-width="0.9" /><ellipse cx="188.6" cy="1358.0" rx="4.0" ry="3.6" fill="#0a0aff" stroke="#6464b8" stroke-width="0.9" /><ellipse cx="191.3" cy="1359.6" rx="5.4" ry="4.7" fill="#0a0aff" stroke="#6464b8" stroke-width="0.9" /><ellipse cx="200.7" cy="1356.6" rx="3.6" ry="4.5" fill="#0a0aff" stroke="#6464b8" stroke-width="0.9" /><ellipse cx="206.8" cy="1359.8" rx="4.7" ry="3.2" fill="#0a0aff" stroke="#6464b8" stroke-width="0.9" /><ellipse cx="209.2" cy="1363.1" rx="5.2" ry="4.7" fill="#0a0aff" stroke="#6464b8" stroke-width="0.9" /><ellipse cx="219.4" cy="1358.2" rx="3.7" ry="3.5" fill="#0a0aff" stroke="#6464b8" stroke-width="0.9" /><ellipse cx="222.2" cy="1361.3" rx="5.4" ry="4.5" fill="#0a0aff" stroke="#6464b8" stroke-width="0.9" /><ellipse cx="229.1" cy="1361.9" rx="4.4" ry="4.2" fill="#0a0aff" stroke="#6464b8" stroke-width="0.9" /><ellipse cx="230.7" cy="1362.0" rx="4.0" ry="4.9" fill="#0a0aff" stroke="#6464b8" stroke-width="0.9" /><ellipse cx="241.0" cy="1358.6" rx="3.8" ry="3.7" fill="#0a0aff" stroke="#6464b8" stroke-width="0.9" /><ellipse cx="247.0" cy="1361.4" rx="3.7" ry="3.3" fill="#0a0aff" stroke="#6464b8" stroke-width="0.9" /><ellipse cx="252.2" cy="1360.6" rx="4.3" ry="3.6" fill="#0a0aff" stroke="#6464b8" stroke-width="0.9" /><ellipse cx="258.7" cy="1356.5" rx="4.1" ry="4.0" fill="#0a0aff" stroke="#6464b8" stroke-width="0.9" /><ellipse cx="267.3" cy="1361.0" rx="5.3" ry="4.1" fill="#0a0aff" stroke="#6464b8" stroke-width="0.9" /><ellipse cx="268.1" cy="1358.2" rx="5.4" ry="4.5" fill="#0a0aff" stroke="#6464b8" stroke-width="0.9" /><ellipse cx="274.6" cy="1356.6" rx="4.5" ry="4.4" fill="#0a0aff" stroke="#6464b8" stroke-width="0.9" /><ellipse cx="281.4" cy="1358.3" rx="4.8" ry="4.9" fill="#0a0aff" stroke="#6464b8" stroke-width="0.9" /><ellipse cx="286.0" cy="1356.6" rx="4.2" ry="4.0" fill="#0a0aff" stroke="#6464b8" stroke-width="0.9" /><ellipse cx="146.9" cy="1368.8" rx="5.0" ry="5.0" fill="#0a0aff" stroke="#6464b8" stroke-width="0.9" /><ellipse cx="153.1" cy="1364.8" rx="3.9" ry="4.9" fill="#0a0aff" stroke="#6464b8" stroke-width="0.9" /><ellipse cx="157.8" cy="1362.6" rx="4.8" ry="3.9" fill="#0a0aff" stroke="#6464b8" stroke-width="0.9" /><ellipse cx="161.1" cy="1364.8" rx="3.8" ry="3.2" fill="#0a0aff" stroke="#6464b8" stroke-width="0.9" /><ellipse cx="166.4" cy="1364.9" rx="5.4" ry="3.4" fill="#0a0aff" stroke="#6464b8" stroke-width="0.9" /><ellipse cx="177.3" cy="1363.9" rx="4.2" ry="4.7" fill="#0a0aff" stroke="#6464b8" stroke-width="0.9" /><ellipse cx="182.3" cy="1365.5" rx="3.6" ry="4.1" fill="#0a0aff" stroke="#6464b8" stroke-width="0.9" /><ellipse cx="185.1" cy="1369.0" rx="3.9" ry="3.9" fill="#0a0aff" stroke="#6464b8" stroke-width="0.9" /><ellipse cx="194.9" cy="1362.6" rx="4.3" ry="4.7" fill="#0a0aff" stroke="#6464b8" stroke-width="0.9" /><ellipse cx="199.9" cy="1362.7" rx="3.6" ry="3.3" fill="#0a0aff" stroke="#6464b8" stroke-width="0.9" /><ellipse cx="207.0" cy="1364.3" rx="5.0" ry="4.8" fill="#0a0aff" stroke="#6464b8" stroke-width="0.9" /><ellipse cx="208.8" cy="1364.4" rx="5.4" ry="4.3" fill="#0a0aff" stroke="#6464b8" stroke-width="0.9" /><ellipse cx="214.3" cy="1367.6" rx="4.1" ry="3.7" fill="#0a0aff" stroke="#6464b8" stroke-width="0.9" /><ellipse cx="218.4" cy="1367.8" rx="5.3" ry="4.3" fill="#0a0aff" stroke="#6464b8" stroke-width="0.9" /><ellipse cx="231.2" cy="1362.6" rx="4.0" ry="4.1" fill="#0a0aff" stroke="#6464b8" stroke-width="0.9" /><ellipse cx="237.3" cy="1369.3" rx="4.3" ry="3.7" fill="#0a0aff" stroke="#6464b8" stroke-width="0.9" /><ellipse cx="239.5" cy="1366.0" rx="5.4" ry="3.5" fill="#0a0aff" stroke="#6464b8" stroke-width="0.9" /><ellipse cx="248.2" cy="1367.7" rx="5.1" ry="4.6" fill="#0a0aff" stroke="#6464b8" stroke-width="0.9" /><ellipse cx="252.8" cy="1364.8" rx="4.1" ry="3.9" fill="#0a0aff" stroke="#6464b8" stroke-width="0.9" /><ellipse cx="260.0" cy="1363.0" rx="3.9" ry="4.6" fill="#0a0aff" stroke="#6464b8" stroke-width="0.9" /><ellipse cx="262.2" cy="1362.9" rx="3.6" ry="4.2" fill="#0a0aff" stroke="#6464b8" stroke-width="0.9" /><ellipse cx="125.3" cy="1375.5" rx="4.5" ry="3.6" fill="#0a0aff" stroke="#6464b8" stroke-width="0.9" /><ellipse cx="134.2" cy="1373.1" rx="5.5" ry="3.4" fill="#0a0aff" stroke="#6464b8" stroke-width="0.9" /><ellipse cx="137.8" cy="1374.3" rx="5.2" ry="4.8" fill="#0a0aff" stroke="#6464b8" stroke-width="0.9" /><ellipse cx="140.7" cy="1370.5" rx="3.7" ry="3.5" fill="#0a0aff" stroke="#6464b8" stroke-width="0.9" /><ellipse cx="153.4" cy="1372.6" rx="5.4" ry="3.9" fill="#0a0aff" stroke="#6464b8" stroke-width="0.9" /><ellipse cx="158.6" cy="1371.6" rx="4.0" ry="4.6" fill="#0a0aff" stroke="#6464b8" stroke-width="0.9" /><ellipse cx="165.2" cy="1369.2" rx="4.7" ry="4.3" fill="#0a0aff" stroke="#6464b8" stroke-width="0.9" /><ellipse cx="166.0" cy="1371.1" rx="3.8" ry="3.6" fill="#0a0aff" stroke="#6464b8" stroke-width="0.9" /><ellipse cx="172.2" cy="1372.7" rx="4.8" ry="3.6" fill="#0a0aff" stroke="#6464b8" stroke-width="0.9" /><ellipse cx="176.5" cy="1370.8" rx="4.9" ry="3.5" fill="#0a0aff" stroke="#6464b8" stroke-width="0.9" /><ellipse cx="184.6" cy="1369.9" rx="5.1" ry="4.2" fill="#0a0aff" stroke="#6464b8" stroke-width="0.9" /><ellipse cx="188.9" cy="1369.1" rx="4.3" ry="4.2" fill="#0a0aff" stroke="#6464b8" stroke-width="0.9" /><ellipse cx="199.0" cy="1369.1" rx="3.8" ry="4.5" fill="#0a0aff" stroke="#6464b8" stroke-width="0.9" /><ellipse cx="203.4" cy="1370.4" rx="4.1" ry="4.9" fill="#0a0aff" stroke="#6464b8" stroke-width="0.9" /><ellipse cx="208.6" cy="1372.5" rx="4.2" ry="3.9" fill="#0a0aff" stroke="#6464b8" stroke-width="0.9" /><ellipse cx="218.6" cy="1375.6" rx="4.2" ry="3.6" fill="#0a0aff" stroke="#6464b8" stroke-width="0.9" /><ellipse cx="223.6" cy="1369.9" rx="3.5" ry="4.8" fill="#0a0aff" stroke="#6464b8" stroke-width="0.9" /><ellipse cx="227.5" cy="1374.3" rx="4.3" ry="4.8" fill="#0a0aff" stroke="#6464b8" stroke-width="0.9" /><ellipse cx="233.7" cy="1369.6" rx="3.5" ry="4.2" fill="#0a0aff" stroke="#6464b8" stroke-width="0.9" /><ellipse cx="241.0" cy="1375.0" rx="3.7" ry="4.3" fill="#0a0aff" stroke="#6464b8" stroke-width="0.9" /><ellipse cx="245.1" cy="1372.0" rx="3.8" ry="3.7" fill="#0a0aff" stroke="#6464b8" stroke-width="0.9" /><ellipse cx="252.2" cy="1375.1" rx="3.7" ry="4.1" fill="#0a0aff" stroke="#6464b8" stroke-width="0.9" /><ellipse cx="260.2" cy="1375.4" rx="3.9" ry="3.4" fill="#0a0aff" stroke="#6464b8" stroke-width="0.9" /><ellipse cx="120.7" cy="1378.4" rx="4.8" ry="3.8" fill="#0a0aff" stroke="#6464b8" stroke-width="0.9" /><ellipse cx="125.4" cy="1378.6" rx="4.4" ry="4.4" fill="#0a0aff" stroke="#6464b8" stroke-width="0.9" /><ellipse cx="131.6" cy="1377.6" rx="3.5" ry="4.3" fill="#0a0aff" stroke="#6464b8" stroke-width="0.9" /><ellipse cx="137.9" cy="1376.1" rx="5.0" ry="4.6" fill="#0a0aff" stroke="#6464b8" stroke-width="0.9" /><ellipse cx="143.7" cy="1375.7" rx="4.4" ry="3.4" fill="#0a0aff" stroke="#6464b8" stroke-width="0.9" /><ellipse cx="147.3" cy="1377.5" rx="3.7" ry="4.0" fill="#0a0aff" stroke="#6464b8" stroke-width="0.9" /><ellipse cx="156.1" cy="1374.7" rx="4.8" ry="3.3" fill="#0a0aff" stroke="#6464b8" stroke-width="0.9" /><ellipse cx="163.7" cy="1380.0" rx="4.5" ry="3.3" fill="#0a0aff" stroke="#6464b8" stroke-width="0.9" /><ellipse cx="168.0" cy="1377.1" rx="5.4" ry="3.4" fill="#0a0aff" stroke="#6464b8" stroke-width="0.9" /><ellipse cx="176.6" cy="1381.6" rx="5.0" ry="4.7" fill="#0a0aff" stroke="#6464b8" stroke-width="0.9" /><ellipse cx="177.8" cy="1381.5" rx="4.5" ry="4.9" fill="#0a0aff" stroke="#6464b8" stroke-width="0.9" /><ellipse cx="189.0" cy="1375.6" rx="5.1" ry="4.9" fill="#0a0aff" stroke="#6464b8" stroke-width="0.9" /><ellipse cx="188.9" cy="1376.9" rx="5.0" ry="3.5" fill="#0a0aff" stroke="#6464b8" stroke-width="0.9" /><ellipse cx="200.9" cy="1376.4" rx="5.1" ry="3.5" fill="#0a0aff" stroke="#6464b8" stroke-width="0.9" /><ellipse cx="204.0" cy="1381.0" rx="3.9" ry="3.7" fill="#0a0aff" stroke="#6464b8" stroke-width="0.9" /><ellipse cx="210.0" cy="1376.7" rx="3.6" ry="3.5" fill="#0a0aff" stroke="#6464b8" stroke-width="0.9" /><ellipse cx="213.6" cy="1381.1" rx="4.9" ry="4.8" fill="#0a0aff" stroke="#6464b8" stroke-width="0.9" /><ellipse cx="219.6" cy="1380.1" rx="3.7" ry="4.2" fill="#0a0aff" stroke="#6464b8" stroke-width="0.9" /><ellipse cx="229.0" cy="1377.0" rx="5.2" ry="4.2" fill="#0a0aff" stroke="#6464b8" stroke-width="0.9" /><ellipse cx="234.6" cy="1380.8" rx="3.7" ry="5.0" fill="#0a0aff" stroke="#6464b8" stroke-width="0.9" /><ellipse cx="240.9" cy="1377.2" rx="5.1" ry="3.7" fill="#0a0aff" stroke="#6464b8" stroke-width="0.9" /><ellipse cx="249.5" cy="1378.6" rx="4.2" ry="4.6" fill="#0a0aff" stroke="#6464b8" stroke-width="0.9" /><ellipse cx="251.6" cy="1375.7" rx="5.0" ry="3.3" fill="#0a0aff" stroke="#6464b8" stroke-width="0.9" /><ellipse cx="260.3" cy="1376.2" rx="4.8" ry="5.0" fill="#0a0aff" stroke="#6464b8" stroke-width="0.9" /><ellipse cx="122.7" cy="1386.0" rx="4.3" ry="3.7" fill="#0a0aff" stroke="#6464b8" stroke-width="0.9" /><ellipse cx="122.5" cy="1385.0" rx="4.6" ry="3.8" fill="#0a0aff" stroke="#6464b8" stroke-width="0.9" /><ellipse cx="133.0" cy="1383.6" rx="5.4" ry="4.5" fill="#0a0aff" stroke="#6464b8" stroke-width="0.9" /><ellipse cx="136.2" cy="1386.9" rx="3.6" ry="4.2" fill="#0a0aff" stroke="#6464b8" stroke-width="0.9" /><ellipse cx="143.3" cy="1382.1" rx="3.6" ry="4.6" fill="#0a0aff" stroke="#6464b8" stroke-width="0.9" /><ellipse cx="146.5" cy="1384.4" rx="5.4" ry="3.5" fill="#0a0aff" stroke="#6464b8" stroke-width="0.9" /><ellipse cx="153.8" cy="1384.8" rx="4.5" ry="4.4" fill="#0a0aff" stroke="#6464b8" stroke-width="0.9" /><ellipse cx="164.3" cy="1381.7" rx="4.1" ry="3.7" fill="#0a0aff" stroke="#6464b8" stroke-width="0.9" /><ellipse cx="164.7" cy="1386.8" rx="5.1" ry="4.5" fill="#0a0aff" stroke="#6464b8" stroke-width="0.9" /><ellipse cx="170.4" cy="1386.5" rx="5.0" ry="4.0" fill="#0a0aff" stroke="#6464b8" stroke-width="0.9" /><ellipse cx="181.7" cy="1383.7" rx="4.0" ry="3.4" fill="#0a0aff" stroke="#6464b8" stroke-width="0.9" /><ellipse cx="184.1" cy="1380.7" rx="4.2" ry="4.5" fill="#0a0aff" stroke="#6464b8" stroke-width="0.9" /><ellipse cx="193.4" cy="1386.5" rx="4.9" ry="3.7" fill="#0a0aff" stroke="#6464b8" stroke-width="0.9" /><ellipse cx="198.4" cy="1383.5" rx="5.1" ry="4.1" fill="#0a0aff" stroke="#6464b8" stroke-width="0.9" /><ellipse cx="202.3" cy="1385.0" rx="5.4" ry="3.6" fill="#0a0aff" stroke="#6464b8" stroke-width="0.9" /><ellipse cx="212.7" cy="1380.5" rx="4.0" ry="3.6" fill="#0a0aff" stroke="#6464b8" stroke-width="0.9" /><ellipse cx="217.8" cy="1387.2" rx="5.0" ry="3.8" fill="#0a0aff" stroke="#6464b8" stroke-width="0.9" /><ellipse cx="224.7" cy="1382.8" rx="4.0" ry="4.8" fill="#0a0aff" stroke="#6464b8" stroke-width="0.9" /><ellipse cx="228.9" cy="1385.4" rx="4.8" ry="5.0" fill="#0a0aff" stroke="#6464b8" stroke-width="0.9" /><ellipse cx="233.8" cy="1386.4" rx="4.9" ry="4.7" fill="#0a0aff" stroke="#6464b8" stroke-width="0.9" /><ellipse cx="239.5" cy="1385.6" rx="4.6" ry="3.8" fill="#0a0aff" stroke="#6464b8" stroke-width="0.9" /><ellipse cx="243.9" cy="1384.9" rx="3.7" ry="4.8" fill="#0a0aff" stroke="#6464b8" stroke-width="0.9" /><ellipse cx="249.4" cy="1380.6" rx="3.7" ry="4.9" fill="#0a0aff" stroke="#6464b8" stroke-width="0.9" /><ellipse cx="256.9" cy="1381.4" rx="3.6" ry="3.3" fill="#0a0aff" stroke="#6464b8" stroke-width="0.9" /><ellipse cx="112.7" cy="1389.5" rx="3.5" ry="3.7" fill="#0a0aff" stroke="#6464b8" stroke-width="0.9" /><ellipse cx="118.4" cy="1391.6" rx="4.2" ry="3.8" fill="#0a0aff" stroke="#6464b8" stroke-width="0.9" /><ellipse cx="129.3" cy="1390.0" rx="5.2" ry="4.3" fill="#0a0aff" stroke="#6464b8" stroke-width="0.9" /><ellipse cx="128.6" cy="1389.4" rx="4.4" ry="4.6" fill="#0a0aff" stroke="#6464b8" stroke-width="0.9" /><ellipse cx="136.9" cy="1391.5" rx="4.6" ry="3.6" fill="#0a0aff" stroke="#6464b8" stroke-width="0.9" /><ellipse cx="146.6" cy="1387.1" rx="5.1" ry="3.5" fill="#0a0aff" stroke="#6464b8" stroke-width="0.9" /><ellipse cx="146.4" cy="1387.9" rx="5.0" ry="5.0" fill="#0a0aff" stroke="#6464b8" stroke-width="0.9" /><ellipse cx="152.4" cy="1389.9" rx="4.5" ry="4.6" fill="#0a0aff" stroke="#6464b8" stroke-width="0.9" /><ellipse cx="159.7" cy="1390.0" rx="4.2" ry="4.7" fill="#0a0aff" stroke="#6464b8" stroke-width="0.9" /><ellipse cx="166.3" cy="1393.2" rx="4.1" ry="3.6" fill="#0a0aff" stroke="#6464b8" stroke-width="0.9" /><ellipse cx="175.4" cy="1390.0" rx="3.7" ry="4.3" fill="#0a0aff" stroke="#6464b8" stroke-width="0.9" /><ellipse cx="177.0" cy="1392.1" rx="4.9" ry="4.6" fill="#0a0aff" stroke="#6464b8" stroke-width="0.9" /><ellipse cx="186.9" cy="1389.0" rx="4.3" ry="3.9" fill="#0a0aff" stroke="#6464b8" stroke-width="0.9" /><ellipse cx="194.8" cy="1387.0" rx="5.3" ry="3.2" fill="#0a0aff" stroke="#6464b8" stroke-width="0.9" /><ellipse cx="195.9" cy="1388.3" rx="5.3" ry="4.1" fill="#0a0aff" stroke="#6464b8" stroke-width="0.9" /><ellipse cx="203.1" cy="1392.8" rx="4.0" ry="4.0" fill="#0a0aff" stroke="#6464b8" stroke-width="0.9" /><ellipse cx="210.2" cy="1391.8" rx="5.0" ry="4.4" fill="#0a0aff" stroke="#6464b8" stroke-width="0.9" /><ellipse cx="214.9" cy="1388.8" rx="3.8" ry="4.7" fill="#0a0aff" stroke="#6464b8" stroke-width="0.9" /><ellipse cx="223.2" cy="1391.7" rx="3.8" ry="4.0" fill="#0a0aff" stroke="#6464b8" stroke-width="0.9" /><ellipse cx="230.0" cy="1390.6" rx="3.8" ry="4.0" fill="#0a0aff" stroke="#6464b8" stroke-width="0.9" /><ellipse cx="236.8" cy="1388.1" rx="3.9" ry="3.7" fill="#0a0aff" stroke="#6464b8" stroke-width="0.9" /><ellipse cx="243.5" cy="1387.5" rx="4.0" ry="3.8" fill="#0a0aff" stroke="#6464b8" stroke-width="0.9" /><ellipse cx="110.9" cy="1395.5" rx="4.6" ry="4.5" fill="#0a0aff" stroke="#6464b8" stroke-width="0.9" /><ellipse cx="113.4" cy="1394.0" rx="4.9" ry="4.8" fill="#0a0aff" stroke="#6464b8" stroke-width="0.9" /><ellipse cx="122.0" cy="1397.4" rx="5.2" ry="4.4" fill="#0a0aff" stroke="#6464b8" stroke-width="0.9" /><ellipse cx="127.0" cy="1395.7" rx="4.1" ry="4.3" fill="#0a0aff" stroke="#6464b8" stroke-width="0.9" /><ellipse cx="129.1" cy="1395.4" rx="5.1" ry="4.5" fill="#0a0aff" stroke="#6464b8" stroke-width="0.9" /><ellipse cx="138.9" cy="1394.2" rx="4.3" ry="4.0" fill="#0a0aff" stroke="#6464b8" stroke-width="0.9" /><ellipse cx="144.9" cy="1395.3" rx="4.9" ry="4.9" fill="#0a0aff" stroke="#6464b8" stroke-width="0.9" /><ellipse cx="147.7" cy="1397.1" rx="5.1" ry="3.9" fill="#0a0aff" stroke="#6464b8" stroke-width="0.9" /><ellipse cx="155.9" cy="1399.4" rx="3.6" ry="4.2" fill="#0a0aff" stroke="#6464b8" stroke-width="0.9" /><ellipse cx="159.6" cy="1398.0" rx="5.4" ry="4.1" fill="#0a0aff" stroke="#6464b8" stroke-width="0.9" /><ellipse cx="165.1" cy="1396.5" rx="4.6" ry="4.5" fill="#0a0aff" stroke="#6464b8" stroke-width="0.9" /><ellipse cx="174.1" cy="1397.0" rx="5.2" ry="4.1" fill="#0a0aff" stroke="#6464b8" stroke-width="0.9" /><ellipse cx="179.4" cy="1399.2" rx="3.9" ry="4.4" fill="#0a0aff" stroke="#6464b8" stroke-width="0.9" /><ellipse cx="185.2" cy="1397.9" rx="3.7" ry="5.0" fill="#0a0aff" stroke="#6464b8" stroke-width="0.9" /><ellipse cx="191.0" cy="1392.8" rx="4.0" ry="3.9" fill="#0a0aff" stroke="#6464b8" stroke-width="0.9" /><ellipse cx="194.5" cy="1395.4" rx="4.3" ry="4.5" fill="#0a0aff" stroke="#6464b8" stroke-width="0.9" /><ellipse cx="202.9" cy="1394.3" rx="3.9" ry="4.5" fill="#0a0aff" stroke="#6464b8" stroke-width="0.9" /><ellipse cx="213.2" cy="1396.2" rx="3.9" ry="4.6" fill="#0a0aff" stroke="#6464b8" stroke-width="0.9" /><ellipse cx="215.2" cy="1393.9" rx="3.8" ry="4.6" fill="#0a0aff" stroke="#6464b8" stroke-width="0.9" /><ellipse cx="121.1" cy="1400.2" rx="3.7" ry="3.5" fill="#0a0aff" stroke="#6464b8" stroke-width="0.9" /><ellipse cx="124.1" cy="1404.0" rx="4.2" ry="3.5" fill="#0a0aff" stroke="#6464b8" stroke-width="0.9" /><ellipse cx="159.8" cy="1403.4" rx="4.6" ry="4.5" fill="#0a0aff" stroke="#6464b8" stroke-width="0.9" /><ellipse cx="174.4" cy="1400.3" rx="4.0" ry="3.5" fill="#0a0aff" stroke="#6464b8" stroke-width="0.9" /><ellipse cx="180.0" cy="1398.8" rx="4.4" ry="3.5" fill="#0a0aff" stroke="#6464b8" stroke-width="0.9" /><ellipse cx="185.9" cy="1402.0" rx="4.6" ry="4.8" fill="#0a0aff" stroke="#6464b8" stroke-width="0.9" /><ellipse cx="125" cy="1400" rx="4" ry="4" fill="#000090" stroke="#6464b8" stroke-width="0.8" /><ellipse cx="140" cy="1399" rx="5" ry="4" fill="#000090" stroke="#6464b8" stroke-width="0.8" /><ellipse cx="155" cy="1401" rx="4" ry="3.5" fill="#000090" stroke="#6464b8" stroke-width="0.8" /><ellipse cx="170" cy="1399" rx="4" ry="3.5" fill="#000090" stroke="#6464b8" stroke-width="0.8" /><ellipse cx="135" cy="1391" rx="4" ry="3.5" fill="#000090" stroke="#6464b8" stroke-width="0.8" /><ellipse cx="160" cy="1393" rx="4" ry="3" fill="#000090" stroke="#6464b8" stroke-width="0.8" /><ellipse cx="112" cy="1400" rx="3" ry="3" fill="#000090" stroke="#6464b8" stroke-width="0.8" /><ellipse cx="192" cy="1401" rx="5" ry="2.5" fill="#0a0aff" stroke="#6464b8" stroke-width="0.7" /><ellipse cx="206" cy="1398.5" rx="6" ry="2.5" fill="#0a0aff" stroke="#6464b8" stroke-width="0.7" /><ellipse cx="220" cy="1396" rx="6" ry="2.5" fill="#0a0aff" stroke="#6464b8" stroke-width="0.7" /><ellipse cx="233" cy="1393.5" rx="5" ry="2.5" fill="#0a0aff" stroke="#6464b8" stroke-width="0.7" /><ellipse cx="146" cy="1356" rx="3.5" ry="9" fill="#0a0aff" stroke="#6464b8" stroke-width="0.6" /><ellipse cx="152" cy="1353" rx="3" ry="10" fill="#0a0aff" stroke="#6464b8" stroke-width="0.6" /><ellipse cx="166" cy="1352" rx="3.5" ry="9" fill="#0a0aff" stroke="#6464b8" stroke-width="0.6" /><ellipse cx="173" cy="1350" rx="3" ry="9" fill="#0a0aff" stroke="#6464b8" stroke-width="0.6" /><ellipse cx="180" cy="1352" rx="3.5" ry="8" fill="#0a0aff" stroke="#6464b8" stroke-width="0.6" /><ellipse cx="190" cy="1350" rx="3.5" ry="8" fill="#0a0aff" stroke="#6464b8" stroke-width="0.6" /><ellipse cx="178" cy="1374" rx="6" ry="3" fill="#000080" stroke="#6464b8" stroke-width="0.6" /><ellipse cx="140" cy="1398" rx="4" ry="3" fill="#000080" stroke="#6464b8" stroke-width="0.6" /><ellipse cx="165" cy="1392" rx="4" ry="3" fill="#000080" stroke="#6464b8" stroke-width="0.6" /><ellipse cx="281.3" cy="1398.8" rx="4.5" ry="4.5" fill="#0a0aff" stroke="#6464b8" stroke-width="0.6" /><ellipse cx="235" cy="1384" rx="6" ry="4" fill="#0000c0" stroke="#6464b8" stroke-width="0.6" /><path d="M185.0,1262.0 C187.2,1253.0 197.5,1260.3 205.0,1260.0 C212.5,1259.7 222.5,1259.3 230.0,1260.0 C237.5,1260.7 244.7,1264.7 250.0,1264.0 C255.3,1263.3 259.3,1260.0 262.0,1256.0 C264.7,1252.0 261.0,1241.3 266.0,1240.0 C271.0,1238.7 287.0,1245.0 292.0,1248.0 C297.0,1251.0 291.7,1256.0 296.0,1258.0 C300.3,1260.0 312.3,1257.7 318.0,1260.0 C323.7,1262.3 326.7,1267.8 330.0,1272.0 C333.3,1276.2 335.5,1280.3 338.0,1285.0 C340.5,1289.7 344.7,1295.5 345.0,1300.0 C345.3,1304.5 342.5,1308.3 340.0,1312.0 C337.5,1315.7 334.7,1319.0 330.0,1322.0 C325.3,1325.0 318.3,1327.7 312.0,1330.0 C305.7,1332.3 298.7,1333.8 292.0,1336.0 C285.3,1338.2 279.0,1341.3 272.0,1343.0 C265.0,1344.7 257.0,1345.2 250.0,1346.0 C243.0,1346.8 237.0,1348.0 230.0,1348.0 C223.0,1348.0 213.5,1345.7 208.0,1346.0 C202.5,1346.3 202.0,1350.2 197.0,1350.0 C192.0,1349.8 181.7,1347.3 178.0,1345.0 C174.3,1342.7 175.3,1339.0 175.0,1336.0 C174.7,1333.0 174.5,1329.3 176.0,1327.0 C177.5,1324.7 181.3,1324.2 184.0,1322.0 C186.7,1319.8 191.8,1324.0 192.0,1314.0 C192.2,1304.0 182.8,1271.0 185.0,1262.0Z" fill="#800080"/><ellipse cx="273.1" cy="1245.5" rx="9.4" ry="4.9" fill="#800080" stroke="#bb66c4" stroke-width="0.9" /><ellipse cx="274.7" cy="1250.6" rx="9.3" ry="8.3" fill="#800080" stroke="#bb66c4" stroke-width="0.9" /><ellipse cx="265.0" cy="1259.1" rx="7.0" ry="7.0" fill="#800080" stroke="#bb66c4" stroke-width="0.9" /><ellipse cx="275.6" cy="1259.2" rx="8.6" ry="5.5" fill="#800080" stroke="#bb66c4" stroke-width="0.9" /><ellipse cx="278.3" cy="1259.7" rx="7.3" ry="7.4" fill="#800080" stroke="#bb66c4" stroke-width="0.9" /><ellipse cx="288.0" cy="1259.8" rx="9.8" ry="5.4" fill="#800080" stroke="#bb66c4" stroke-width="0.9" /><ellipse cx="290.2" cy="1253.7" rx="7.5" ry="6.9" fill="#800080" stroke="#bb66c4" stroke-width="0.9" /><ellipse cx="306.0" cy="1259.7" rx="5.3" ry="8.2" fill="#800080" stroke="#bb66c4" stroke-width="0.9" /><ellipse cx="195.1" cy="1261.4" rx="8.6" ry="7.4" fill="#800080" stroke="#bb66c4" stroke-width="0.9" /><ellipse cx="198.7" cy="1261.2" rx="6.5" ry="7.8" fill="#800080" stroke="#bb66c4" stroke-width="0.9" /><ellipse cx="209.8" cy="1263.6" rx="5.5" ry="8.0" fill="#800080" stroke="#bb66c4" stroke-width="0.9" /><ellipse cx="217.6" cy="1261.4" rx="8.5" ry="8.5" fill="#800080" stroke="#bb66c4" stroke-width="0.9" /><ellipse cx="226.7" cy="1264.2" rx="7.9" ry="6.9" fill="#800080" stroke="#bb66c4" stroke-width="0.9" /><ellipse cx="228.0" cy="1261.0" rx="6.1" ry="7.5" fill="#800080" stroke="#bb66c4" stroke-width="0.9" /><ellipse cx="237.7" cy="1264.6" rx="7.4" ry="6.6" fill="#800080" stroke="#bb66c4" stroke-width="0.9" /><ellipse cx="259.8" cy="1262.8" rx="5.6" ry="7.2" fill="#800080" stroke="#bb66c4" stroke-width="0.9" /><ellipse cx="265.8" cy="1260.7" rx="8.6" ry="5.7" fill="#800080" stroke="#bb66c4" stroke-width="0.9" /><ellipse cx="271.2" cy="1259.4" rx="5.2" ry="9.0" fill="#800080" stroke="#bb66c4" stroke-width="0.9" /><ellipse cx="282.5" cy="1263.9" rx="8.4" ry="5.3" fill="#800080" stroke="#bb66c4" stroke-width="0.9" /><ellipse cx="289.7" cy="1263.3" rx="10.7" ry="7.8" fill="#800080" stroke="#bb66c4" stroke-width="0.9" /><ellipse cx="298.1" cy="1268.4" rx="6.5" ry="4.2" fill="#800080" stroke="#bb66c4" stroke-width="0.9" /><ellipse cx="300.1" cy="1260.9" rx="5.5" ry="4.3" fill="#800080" stroke="#bb66c4" stroke-width="0.9" /><ellipse cx="311.6" cy="1267.6" rx="7.7" ry="8.7" fill="#800080" stroke="#bb66c4" stroke-width="0.9" /><ellipse cx="190.5" cy="1268.7" rx="10.8" ry="9.0" fill="#800080" stroke="#bb66c4" stroke-width="0.9" /><ellipse cx="196.3" cy="1267.6" rx="6.5" ry="5.8" fill="#800080" stroke="#bb66c4" stroke-width="0.9" /><ellipse cx="210.9" cy="1275.9" rx="10.0" ry="4.2" fill="#800080" stroke="#bb66c4" stroke-width="0.9" /><ellipse cx="217.7" cy="1274.0" rx="8.9" ry="8.9" fill="#800080" stroke="#bb66c4" stroke-width="0.9" /><ellipse cx="218.7" cy="1268.6" rx="9.5" ry="8.7" fill="#800080" stroke="#bb66c4" stroke-width="0.9" /><ellipse cx="232.7" cy="1270.1" rx="8.5" ry="7.8" fill="#800080" stroke="#bb66c4" stroke-width="0.9" /><ellipse cx="235.2" cy="1270.3" rx="6.5" ry="4.6" fill="#800080" stroke="#bb66c4" stroke-width="0.9" /><ellipse cx="246.8" cy="1268.8" rx="6.4" ry="4.7" fill="#800080" stroke="#bb66c4" stroke-width="0.9" /><ellipse cx="256.7" cy="1267.3" rx="9.3" ry="5.0" fill="#800080" stroke="#bb66c4" stroke-width="0.9" /><ellipse cx="258.5" cy="1276.1" rx="6.3" ry="8.7" fill="#800080" stroke="#bb66c4" stroke-width="0.9" /><ellipse cx="274.5" cy="1275.7" rx="5.8" ry="6.2" fill="#800080" stroke="#bb66c4" stroke-width="0.9" /><ellipse cx="275.1" cy="1276.1" rx="10.1" ry="7.1" fill="#800080" stroke="#bb66c4" stroke-width="0.9" /><ellipse cx="286.5" cy="1270.5" rx="9.9" ry="6.4" fill="#800080" stroke="#bb66c4" stroke-width="0.9" /><ellipse cx="296.2" cy="1268.6" rx="6.3" ry="4.3" fill="#800080" stroke="#bb66c4" stroke-width="0.9" /><ellipse cx="305.1" cy="1272.5" rx="5.9" ry="8.4" fill="#800080" stroke="#bb66c4" stroke-width="0.9" /><ellipse cx="308.8" cy="1271.2" rx="5.9" ry="5.4" fill="#800080" stroke="#bb66c4" stroke-width="0.9" /><ellipse cx="322.3" cy="1270.4" rx="6.0" ry="6.5" fill="#800080" stroke="#bb66c4" stroke-width="0.9" /><ellipse cx="325.3" cy="1275.9" rx="5.7" ry="8.9" fill="#800080" stroke="#bb66c4" stroke-width="0.9" /><ellipse cx="330.7" cy="1275.8" rx="9.0" ry="5.1" fill="#800080" stroke="#bb66c4" stroke-width="0.9" /><ellipse cx="195.8" cy="1284.1" rx="5.6" ry="5.4" fill="#800080" stroke="#bb66c4" stroke-width="0.9" /><ellipse cx="202.8" cy="1275.8" rx="9.4" ry="5.5" fill="#800080" stroke="#bb66c4" stroke-width="0.9" /><ellipse cx="211.6" cy="1275.4" rx="9.8" ry="5.7" fill="#800080" stroke="#bb66c4" stroke-width="0.9" /><ellipse cx="211.5" cy="1275.2" rx="10.0" ry="6.6" fill="#800080" stroke="#bb66c4" stroke-width="0.9" /><ellipse cx="220.0" cy="1279.4" rx="10.5" ry="5.1" fill="#800080" stroke="#bb66c4" stroke-width="0.9" /><ellipse cx="231.7" cy="1276.5" rx="6.1" ry="7.9" fill="#800080" stroke="#bb66c4" stroke-width="0.9" /><ellipse cx="241.0" cy="1277.1" rx="5.5" ry="4.4" fill="#800080" stroke="#bb66c4" stroke-width="0.9" /><ellipse cx="248.0" cy="1280.0" rx="6.6" ry="5.0" fill="#800080" stroke="#bb66c4" stroke-width="0.9" /><ellipse cx="256.1" cy="1282.0" rx="9.9" ry="6.9" fill="#800080" stroke="#bb66c4" stroke-width="0.9" /><ellipse cx="260.1" cy="1275.8" rx="9.4" ry="6.0" fill="#800080" stroke="#bb66c4" stroke-width="0.9" /><ellipse cx="273.1" cy="1275.7" rx="9.9" ry="5.7" fill="#800080" stroke="#bb66c4" stroke-width="0.9" /><ellipse cx="282.3" cy="1283.5" rx="8.0" ry="4.1" fill="#800080" stroke="#bb66c4" stroke-width="0.9" /><ellipse cx="290.9" cy="1279.8" rx="10.2" ry="5.3" fill="#800080" stroke="#bb66c4" stroke-width="0.9" /><ellipse cx="292.0" cy="1283.2" rx="7.2" ry="4.8" fill="#800080" stroke="#bb66c4" stroke-width="0.9" /><ellipse cx="301.8" cy="1280.9" rx="5.0" ry="6.6" fill="#800080" stroke="#bb66c4" stroke-width="0.9" /><ellipse cx="310.5" cy="1280.2" rx="5.7" ry="7.6" fill="#800080" stroke="#bb66c4" stroke-width="0.9" /><ellipse cx="322.0" cy="1283.5" rx="6.9" ry="7.6" fill="#800080" stroke="#bb66c4" stroke-width="0.9" /><ellipse cx="325.9" cy="1282.4" rx="5.4" ry="8.4" fill="#800080" stroke="#bb66c4" stroke-width="0.9" /><ellipse cx="196.6" cy="1291.0" rx="5.2" ry="4.5" fill="#800080" stroke="#bb66c4" stroke-width="0.9" /><ellipse cx="208.9" cy="1285.1" rx="5.1" ry="7.0" fill="#800080" stroke="#bb66c4" stroke-width="0.9" /><ellipse cx="215.7" cy="1288.2" rx="9.2" ry="4.5" fill="#800080" stroke="#bb66c4" stroke-width="0.9" /><ellipse cx="226.5" cy="1290.1" rx="5.3" ry="4.6" fill="#800080" stroke="#bb66c4" stroke-width="0.9" /><ellipse cx="230.9" cy="1288.0" rx="6.7" ry="4.6" fill="#800080" stroke="#bb66c4" stroke-width="0.9" /><ellipse cx="238.1" cy="1284.5" rx="8.6" ry="8.3" fill="#800080" stroke="#bb66c4" stroke-width="0.9" /><ellipse cx="243.6" cy="1288.7" rx="9.5" ry="4.8" fill="#800080" stroke="#bb66c4" stroke-width="0.9" /><ellipse cx="258.1" cy="1292.2" rx="7.3" ry="6.1" fill="#800080" stroke="#bb66c4" stroke-width="0.9" /><ellipse cx="266.3" cy="1288.2" rx="7.4" ry="8.7" fill="#800080" stroke="#bb66c4" stroke-width="0.9" /><ellipse cx="273.7" cy="1286.5" rx="6.4" ry="5.7" fill="#800080" stroke="#bb66c4" stroke-width="0.9" /><ellipse cx="278.4" cy="1292.6" rx="9.8" ry="8.6" fill="#800080" stroke="#bb66c4" stroke-width="0.9" /><ellipse cx="290.0" cy="1291.3" rx="5.3" ry="6.6" fill="#800080" stroke="#bb66c4" stroke-width="0.9" /><ellipse cx="299.4" cy="1292.2" rx="6.5" ry="6.1" fill="#800080" stroke="#bb66c4" stroke-width="0.9" /><ellipse cx="304.3" cy="1286.7" rx="8.2" ry="4.3" fill="#800080" stroke="#bb66c4" stroke-width="0.9" /><ellipse cx="310.4" cy="1288.0" rx="5.1" ry="4.7" fill="#800080" stroke="#bb66c4" stroke-width="0.9" /><ellipse cx="323.5" cy="1290.7" rx="10.6" ry="7.2" fill="#800080" stroke="#bb66c4" stroke-width="0.9" /><ellipse cx="330.0" cy="1291.7" rx="10.3" ry="4.2" fill="#800080" stroke="#bb66c4" stroke-width="0.9" /><ellipse cx="336.4" cy="1285.8" rx="9.1" ry="5.4" fill="#800080" stroke="#bb66c4" stroke-width="0.9" /><ellipse cx="195.3" cy="1294.0" rx="6.8" ry="7.2" fill="#800080" stroke="#bb66c4" stroke-width="0.9" /><ellipse cx="195.4" cy="1296.9" rx="10.7" ry="6.6" fill="#800080" stroke="#bb66c4" stroke-width="0.9" /><ellipse cx="204.8" cy="1295.7" rx="8.2" ry="4.7" fill="#800080" stroke="#bb66c4" stroke-width="0.9" /><ellipse cx="211.4" cy="1292.5" rx="6.8" ry="6.0" fill="#800080" stroke="#bb66c4" stroke-width="0.9" /><ellipse cx="221.0" cy="1293.5" rx="5.5" ry="6.7" fill="#800080" stroke="#bb66c4" stroke-width="0.9" /><ellipse cx="234.3" cy="1297.1" rx="8.4" ry="7.3" fill="#800080" stroke="#bb66c4" stroke-width="0.9" /><ellipse cx="236.1" cy="1298.0" rx="7.8" ry="6.7" fill="#800080" stroke="#bb66c4" stroke-width="0.9" /><ellipse cx="248.1" cy="1295.7" rx="6.9" ry="5.2" fill="#800080" stroke="#bb66c4" stroke-width="0.9" /><ellipse cx="252.3" cy="1296.1" rx="7.3" ry="6.9" fill="#800080" stroke="#bb66c4" stroke-width="0.9" /><ellipse cx="258.3" cy="1294.6" rx="10.2" ry="5.2" fill="#800080" stroke="#bb66c4" stroke-width="0.9" /><ellipse cx="271.5" cy="1295.9" rx="6.7" ry="8.9" fill="#800080" stroke="#bb66c4" stroke-width="0.9" /><ellipse cx="277.0" cy="1298.6" rx="6.0" ry="4.3" fill="#800080" stroke="#bb66c4" stroke-width="0.9" /><ellipse cx="290.6" cy="1295.4" rx="5.4" ry="5.9" fill="#800080" stroke="#bb66c4" stroke-width="0.9" /><ellipse cx="294.4" cy="1298.3" rx="5.7" ry="5.1" fill="#800080" stroke="#bb66c4" stroke-width="0.9" /><ellipse cx="307.4" cy="1298.3" rx="5.9" ry="5.7" fill="#800080" stroke="#bb66c4" stroke-width="0.9" /><ellipse cx="309.6" cy="1297.7" rx="8.7" ry="8.2" fill="#800080" stroke="#bb66c4" stroke-width="0.9" /><ellipse cx="322.1" cy="1296.2" rx="9.4" ry="7.7" fill="#800080" stroke="#bb66c4" stroke-width="0.9" /><ellipse cx="329.5" cy="1295.8" rx="9.7" ry="7.5" fill="#800080" stroke="#bb66c4" stroke-width="0.9" /><ellipse cx="339.0" cy="1292.4" rx="10.2" ry="4.0" fill="#800080" stroke="#bb66c4" stroke-width="0.9" /><ellipse cx="193.7" cy="1307.6" rx="8.6" ry="5.9" fill="#800080" stroke="#bb66c4" stroke-width="0.9" /><ellipse cx="198.5" cy="1303.6" rx="9.3" ry="5.5" fill="#800080" stroke="#bb66c4" stroke-width="0.9" /><ellipse cx="206.0" cy="1304.5" rx="7.3" ry="5.6" fill="#800080" stroke="#bb66c4" stroke-width="0.9" /><ellipse cx="217.8" cy="1307.4" rx="8.0" ry="6.2" fill="#800080" stroke="#bb66c4" stroke-width="0.9" /><ellipse cx="220.0" cy="1302.1" rx="5.9" ry="6.9" fill="#800080" stroke="#bb66c4" stroke-width="0.9" /><ellipse cx="231.8" cy="1300.0" rx="10.5" ry="5.6" fill="#800080" stroke="#bb66c4" stroke-width="0.9" /><ellipse cx="242.3" cy="1307.2" rx="10.8" ry="5.0" fill="#800080" stroke="#bb66c4" stroke-width="0.9" /><ellipse cx="246.3" cy="1307.9" rx="5.1" ry="4.2" fill="#800080" stroke="#bb66c4" stroke-width="0.9" /><ellipse cx="255.6" cy="1304.0" rx="10.5" ry="7.9" fill="#800080" stroke="#bb66c4" stroke-width="0.9" /><ellipse cx="263.4" cy="1308.8" rx="8.1" ry="6.6" fill="#800080" stroke="#bb66c4" stroke-width="0.9" /><ellipse cx="272.8" cy="1302.9" rx="7.1" ry="7.0" fill="#800080" stroke="#bb66c4" stroke-width="0.9" /><ellipse cx="277.6" cy="1308.3" rx="9.1" ry="6.6" fill="#800080" stroke="#bb66c4" stroke-width="0.9" /><ellipse cx="283.2" cy="1302.8" rx="7.4" ry="6.8" fill="#800080" stroke="#bb66c4" stroke-width="0.9" /><ellipse cx="295.7" cy="1307.6" rx="10.8" ry="6.4" fill="#800080" stroke="#bb66c4" stroke-width="0.9" /><ellipse cx="302.4" cy="1305.2" rx="11.0" ry="5.7" fill="#800080" stroke="#bb66c4" stroke-width="0.9" /><ellipse cx="311.3" cy="1307.0" rx="6.0" ry="5.6" fill="#800080" stroke="#bb66c4" stroke-width="0.9" /><ellipse cx="323.6" cy="1307.1" rx="8.1" ry="4.6" fill="#800080" stroke="#bb66c4" stroke-width="0.9" /><ellipse cx="330.8" cy="1305.8" rx="9.9" ry="9.0" fill="#800080" stroke="#bb66c4" stroke-width="0.9" /><ellipse cx="338.7" cy="1303.2" rx="5.9" ry="5.4" fill="#800080" stroke="#bb66c4" stroke-width="0.9" /><ellipse cx="343.1" cy="1304.0" rx="6.1" ry="4.9" fill="#800080" stroke="#bb66c4" stroke-width="0.9" /><ellipse cx="192.3" cy="1307.6" rx="7.5" ry="7.9" fill="#800080" stroke="#bb66c4" stroke-width="0.9" /><ellipse cx="197.1" cy="1313.8" rx="5.0" ry="5.5" fill="#800080" stroke="#bb66c4" stroke-width="0.9" /><ellipse cx="210.3" cy="1312.8" rx="9.0" ry="5.0" fill="#800080" stroke="#bb66c4" stroke-width="0.9" /><ellipse cx="215.0" cy="1312.5" rx="6.6" ry="7.2" fill="#800080" stroke="#bb66c4" stroke-width="0.9" /><ellipse cx="223.3" cy="1316.8" rx="8.4" ry="6.1" fill="#800080" stroke="#bb66c4" stroke-width="0.9" /><ellipse cx="227.4" cy="1308.7" rx="9.6" ry="4.5" fill="#800080" stroke="#bb66c4" stroke-width="0.9" /><ellipse cx="235.2" cy="1308.8" rx="8.1" ry="8.1" fill="#800080" stroke="#bb66c4" stroke-width="0.9" /><ellipse cx="248.1" cy="1314.9" rx="5.4" ry="4.1" fill="#800080" stroke="#bb66c4" stroke-width="0.9" /><ellipse cx="257.6" cy="1310.3" rx="9.3" ry="5.8" fill="#800080" stroke="#bb66c4" stroke-width="0.9" /><ellipse cx="259.8" cy="1309.8" rx="5.6" ry="8.5" fill="#800080" stroke="#bb66c4" stroke-width="0.9" /><ellipse cx="271.8" cy="1310.5" rx="7.7" ry="5.9" fill="#800080" stroke="#bb66c4" stroke-width="0.9" /><ellipse cx="274.7" cy="1315.7" rx="8.5" ry="8.8" fill="#800080" stroke="#bb66c4" stroke-width="0.9" /><ellipse cx="286.4" cy="1313.2" rx="6.5" ry="4.2" fill="#800080" stroke="#bb66c4" stroke-width="0.9" /><ellipse cx="299.1" cy="1315.4" rx="6.9" ry="8.5" fill="#800080" stroke="#bb66c4" stroke-width="0.9" /><ellipse cx="306.0" cy="1310.1" rx="8.6" ry="8.8" fill="#800080" stroke="#bb66c4" stroke-width="0.9" /><ellipse cx="311.0" cy="1316.3" rx="6.5" ry="5.9" fill="#800080" stroke="#bb66c4" stroke-width="0.9" /><ellipse cx="321.1" cy="1309.3" rx="6.9" ry="8.4" fill="#800080" stroke="#bb66c4" stroke-width="0.9" /><ellipse cx="326.9" cy="1314.8" rx="6.5" ry="4.9" fill="#800080" stroke="#bb66c4" stroke-width="0.9" /><ellipse cx="333.6" cy="1309.0" rx="10.8" ry="5.5" fill="#800080" stroke="#bb66c4" stroke-width="0.9" /><ellipse cx="187.4" cy="1323.1" rx="7.1" ry="5.2" fill="#800080" stroke="#bb66c4" stroke-width="0.9" /><ellipse cx="196.0" cy="1317.9" rx="6.4" ry="4.2" fill="#800080" stroke="#bb66c4" stroke-width="0.9" /><ellipse cx="208.6" cy="1318.5" rx="5.9" ry="7.5" fill="#800080" stroke="#bb66c4" stroke-width="0.9" /><ellipse cx="211.1" cy="1317.8" rx="10.0" ry="4.6" fill="#800080" stroke="#bb66c4" stroke-width="0.9" /><ellipse cx="222.5" cy="1323.2" rx="9.8" ry="4.8" fill="#800080" stroke="#bb66c4" stroke-width="0.9" /><ellipse cx="229.6" cy="1322.1" rx="7.3" ry="8.8" fill="#800080" stroke="#bb66c4" stroke-width="0.9" /><ellipse cx="236.2" cy="1324.3" rx="8.0" ry="5.1" fill="#800080" stroke="#bb66c4" stroke-width="0.9" /><ellipse cx="246.5" cy="1316.5" rx="9.2" ry="5.3" fill="#800080" stroke="#bb66c4" stroke-width="0.9" /><ellipse cx="258.8" cy="1320.8" rx="7.2" ry="5.2" fill="#800080" stroke="#bb66c4" stroke-width="0.9" /><ellipse cx="264.0" cy="1317.2" rx="10.2" ry="4.6" fill="#800080" stroke="#bb66c4" stroke-width="0.9" /><ellipse cx="271.1" cy="1320.4" rx="6.6" ry="7.9" fill="#800080" stroke="#bb66c4" stroke-width="0.9" /><ellipse cx="277.9" cy="1321.5" rx="8.4" ry="5.6" fill="#800080" stroke="#bb66c4" stroke-width="0.9" /><ellipse cx="285.9" cy="1316.0" rx="6.1" ry="8.3" fill="#800080" stroke="#bb66c4" stroke-width="0.9" /><ellipse cx="293.3" cy="1321.6" rx="5.7" ry="6.8" fill="#800080" stroke="#bb66c4" stroke-width="0.9" /><ellipse cx="301.7" cy="1320.0" rx="6.8" ry="4.3" fill="#800080" stroke="#bb66c4" stroke-width="0.9" /><ellipse cx="309.2" cy="1317.4" rx="5.8" ry="7.6" fill="#800080" stroke="#bb66c4" stroke-width="0.9" /><ellipse cx="316.9" cy="1319.1" rx="10.5" ry="7.9" fill="#800080" stroke="#bb66c4" stroke-width="0.9" /><ellipse cx="331.5" cy="1317.9" rx="5.2" ry="7.4" fill="#800080" stroke="#bb66c4" stroke-width="0.9" /><ellipse cx="184.9" cy="1325.6" rx="10.1" ry="5.8" fill="#800080" stroke="#bb66c4" stroke-width="0.9" /><ellipse cx="192.2" cy="1324.9" rx="5.7" ry="8.6" fill="#800080" stroke="#bb66c4" stroke-width="0.9" /><ellipse cx="201.2" cy="1330.0" rx="5.2" ry="4.2" fill="#800080" stroke="#bb66c4" stroke-width="0.9" /><ellipse cx="203.8" cy="1325.1" rx="6.8" ry="5.9" fill="#800080" stroke="#bb66c4" stroke-width="0.9" /><ellipse cx="210.6" cy="1326.2" rx="8.8" ry="4.9" fill="#800080" stroke="#bb66c4" stroke-width="0.9" /><ellipse cx="226.3" cy="1328.7" rx="9.3" ry="5.3" fill="#800080" stroke="#bb66c4" stroke-width="0.9" /><ellipse cx="230.4" cy="1329.8" rx="7.1" ry="4.0" fill="#800080" stroke="#bb66c4" stroke-width="0.9" /><ellipse cx="242.2" cy="1330.7" rx="6.7" ry="4.2" fill="#800080" stroke="#bb66c4" stroke-width="0.9" /><ellipse cx="250.4" cy="1329.0" rx="5.3" ry="5.2" fill="#800080" stroke="#bb66c4" stroke-width="0.9" /><ellipse cx="251.3" cy="1330.8" rx="6.3" ry="8.6" fill="#800080" stroke="#bb66c4" stroke-width="0.9" /><ellipse cx="265.4" cy="1324.0" rx="9.2" ry="6.0" fill="#800080" stroke="#bb66c4" stroke-width="0.9" /><ellipse cx="273.4" cy="1331.2" rx="6.7" ry="4.4" fill="#800080" stroke="#bb66c4" stroke-width="0.9" /><ellipse cx="283.3" cy="1327.3" rx="10.6" ry="7.5" fill="#800080" stroke="#bb66c4" stroke-width="0.9" /><ellipse cx="289.3" cy="1331.2" rx="8.8" ry="6.3" fill="#800080" stroke="#bb66c4" stroke-width="0.9" /><ellipse cx="290.7" cy="1329.9" rx="7.6" ry="6.6" fill="#800080" stroke="#bb66c4" stroke-width="0.9" /><ellipse cx="307.1" cy="1324.4" rx="9.6" ry="4.2" fill="#800080" stroke="#bb66c4" stroke-width="0.9" /><ellipse cx="181.2" cy="1332.5" rx="9.2" ry="7.4" fill="#800080" stroke="#bb66c4" stroke-width="0.9" /><ellipse cx="188.5" cy="1333.5" rx="8.1" ry="6.2" fill="#800080" stroke="#bb66c4" stroke-width="0.9" /><ellipse cx="203.2" cy="1334.6" rx="6.8" ry="8.4" fill="#800080" stroke="#bb66c4" stroke-width="0.9" /><ellipse cx="203.6" cy="1336.6" rx="7.0" ry="8.1" fill="#800080" stroke="#bb66c4" stroke-width="0.9" /><ellipse cx="215.5" cy="1338.5" rx="6.0" ry="7.3" fill="#800080" stroke="#bb66c4" stroke-width="0.9" /><ellipse cx="223.9" cy="1335.6" rx="9.6" ry="8.2" fill="#800080" stroke="#bb66c4" stroke-width="0.9" /><ellipse cx="227.3" cy="1334.0" rx="7.2" ry="5.0" fill="#800080" stroke="#bb66c4" stroke-width="0.9" /><ellipse cx="234.8" cy="1333.9" rx="6.2" ry="7.5" fill="#800080" stroke="#bb66c4" stroke-width="0.9" /><ellipse cx="246.5" cy="1332.3" rx="6.9" ry="6.3" fill="#800080" stroke="#bb66c4" stroke-width="0.9" /><ellipse cx="253.7" cy="1332.8" rx="5.4" ry="4.1" fill="#800080" stroke="#bb66c4" stroke-width="0.9" /><ellipse cx="267.7" cy="1338.4" rx="5.5" ry="7.6" fill="#800080" stroke="#bb66c4" stroke-width="0.9" /><ellipse cx="275.6" cy="1336.6" rx="5.7" ry="6.4" fill="#800080" stroke="#bb66c4" stroke-width="0.9" /><ellipse cx="278.4" cy="1333.0" rx="8.3" ry="4.0" fill="#800080" stroke="#bb66c4" stroke-width="0.9" /><ellipse cx="186.2" cy="1346.3" rx="7.0" ry="4.9" fill="#800080" stroke="#bb66c4" stroke-width="0.9" /><ellipse cx="194.1" cy="1342.3" rx="7.2" ry="6.8" fill="#800080" stroke="#bb66c4" stroke-width="0.9" /><ellipse cx="197.7" cy="1347.2" rx="6.4" ry="4.2" fill="#800080" stroke="#bb66c4" stroke-width="0.9" /><ellipse cx="207.6" cy="1345.2" rx="9.9" ry="7.5" fill="#800080" stroke="#bb66c4" stroke-width="0.9" /><ellipse cx="222.9" cy="1344.0" rx="5.9" ry="5.5" fill="#800080" stroke="#bb66c4" stroke-width="0.9" /><ellipse cx="231.8" cy="1340.0" rx="9.1" ry="4.8" fill="#800080" stroke="#bb66c4" stroke-width="0.9" /><ellipse cx="243.1" cy="1339.6" rx="7.6" ry="5.0" fill="#800080" stroke="#bb66c4" stroke-width="0.9" /><ellipse cx="257.1" cy="1339.2" rx="10.0" ry="8.3" fill="#800080" stroke="#bb66c4" stroke-width="0.9" /><ellipse cx="265.8" cy="1343.3" rx="6.7" ry="7.3" fill="#800080" stroke="#bb66c4" stroke-width="0.9" /><ellipse cx="192" cy="1268" rx="4.5" ry="9" fill="#800080" stroke="#bb66c4" stroke-width="0.9" /><ellipse cx="201" cy="1266" rx="4.5" ry="9" fill="#800080" stroke="#bb66c4" stroke-width="0.9" /><ellipse cx="210" cy="1266" rx="4.5" ry="9" fill="#800080" stroke="#bb66c4" stroke-width="0.9" /><ellipse cx="219" cy="1266" rx="4.5" ry="9" fill="#800080" stroke="#bb66c4" stroke-width="0.9" /><ellipse cx="228" cy="1268" rx="4.5" ry="8" fill="#800080" stroke="#bb66c4" stroke-width="0.9" /><ellipse cx="265" cy="1300" rx="18" ry="5" fill="#800080" stroke="#bb66c4" stroke-width="0.9" /><ellipse cx="300" cy="1322" rx="20" ry="5" fill="#800080" stroke="#bb66c4" stroke-width="0.9" /><ellipse cx="320" cy="1305" rx="15" ry="6" fill="#800080" stroke="#bb66c4" stroke-width="0.9" /><ellipse cx="290" cy="1312" rx="12" ry="5" fill="#800080" stroke="#bb66c4" stroke-width="0.9" /><ellipse cx="250" cy="1290" rx="12" ry="6" fill="#800080" stroke="#bb66c4" stroke-width="0.9" /><ellipse cx="121" cy="1297" rx="5.5" ry="6.5" fill="#800080" stroke="#bb66c4" stroke-width="0.7" /><ellipse cx="124" cy="1306" rx="5" ry="5" fill="#800080" stroke="#bb66c4" stroke-width="0.7" /><ellipse cx="128" cy="1299" rx="5.5" ry="6.5" fill="#800080" stroke="#bb66c4" stroke-width="0.7" /><ellipse cx="131" cy="1306" rx="5" ry="5" fill="#800080" stroke="#bb66c4" stroke-width="0.7" /><ellipse cx="135" cy="1297" rx="5.5" ry="6.5" fill="#800080" stroke="#bb66c4" stroke-width="0.7" /><ellipse cx="138" cy="1306" rx="5" ry="5" fill="#800080" stroke="#bb66c4" stroke-width="0.7" /><ellipse cx="142" cy="1299" rx="5.5" ry="6.5" fill="#800080" stroke="#bb66c4" stroke-width="0.7" /><ellipse cx="145" cy="1306" rx="5" ry="5" fill="#800080" stroke="#bb66c4" stroke-width="0.7" /><ellipse cx="149" cy="1297" rx="5.5" ry="6.5" fill="#800080" stroke="#bb66c4" stroke-width="0.7" /><ellipse cx="152" cy="1306" rx="5" ry="5" fill="#800080" stroke="#bb66c4" stroke-width="0.7" /><ellipse cx="156" cy="1299" rx="5.5" ry="6.5" fill="#800080" stroke="#bb66c4" stroke-width="0.7" /><ellipse cx="159" cy="1306" rx="5" ry="5" fill="#800080" stroke="#bb66c4" stroke-width="0.7" /><ellipse cx="163" cy="1297" rx="5.5" ry="6.5" fill="#800080" stroke="#bb66c4" stroke-width="0.7" /><ellipse cx="166" cy="1306" rx="5" ry="5" fill="#800080" stroke="#bb66c4" stroke-width="0.7" /><ellipse cx="170" cy="1299" rx="5.5" ry="6.5" fill="#800080" stroke="#bb66c4" stroke-width="0.7" /><ellipse cx="173" cy="1306" rx="5" ry="5" fill="#800080" stroke="#bb66c4" stroke-width="0.7" /><ellipse cx="177" cy="1297" rx="5.5" ry="6.5" fill="#800080" stroke="#bb66c4" stroke-width="0.7" /><ellipse cx="180" cy="1306" rx="5" ry="5" fill="#800080" stroke="#bb66c4" stroke-width="0.7" /><ellipse cx="184" cy="1299" rx="5.5" ry="6.5" fill="#800080" stroke="#bb66c4" stroke-width="0.7" /><ellipse cx="187" cy="1306" rx="5" ry="5" fill="#800080" stroke="#bb66c4" stroke-width="0.7" /><ellipse cx="277.6" cy="1243.2" rx="12.8" ry="15.5" fill="#800080" stroke="#bb66c4" stroke-width="0.7" /><ellipse cx="312" cy="1291" rx="22" ry="4.5" fill="#800080" stroke="#e0a0e0" stroke-width="0.7" /><ellipse cx="344.2" cy="1383" rx="23.5" ry="8.5" fill="#0f8080" stroke="#5fb0a8" stroke-width="0.8" /><ellipse cx="366" cy="1295" rx="26.7" ry="15.8" fill="#1ef8f8" stroke="#2a6a6a" stroke-width="0.9" /><ellipse cx="366" cy="1297" rx="22.7" ry="9.4" fill="#0000ff" stroke="#0000a0" stroke-width="0.6" /><path d="M300.0,1240.0 C301.7,1236.8 305.0,1236.0 310.0,1236.0 C315.0,1236.0 324.2,1238.5 330.0,1240.0 C335.8,1241.5 340.0,1244.7 345.0,1245.0 C350.0,1245.3 355.5,1241.2 360.0,1242.0 C364.5,1242.8 368.7,1247.3 372.0,1250.0 C375.3,1252.7 377.8,1255.0 380.0,1258.0 C382.2,1261.0 384.5,1264.0 385.0,1268.0 C385.5,1272.0 384.7,1278.0 383.0,1282.0 C381.3,1286.0 378.8,1289.7 375.0,1292.0 C371.2,1294.3 365.0,1296.0 360.0,1296.0 C355.0,1296.0 350.0,1293.8 345.0,1292.0 C340.0,1290.2 335.0,1287.0 330.0,1285.0 C325.0,1283.0 319.2,1282.5 315.0,1280.0 C310.8,1277.5 307.5,1274.2 305.0,1270.0 C302.5,1265.8 300.8,1260.0 300.0,1255.0 C299.2,1250.0 298.3,1243.2 300.0,1240.0Z" fill="#1ef8f8"/><ellipse cx="308.5" cy="1247.0" rx="6.1" ry="7.7" fill="#1ef8f8" stroke="#2a6a6a" stroke-width="1.0" /><ellipse cx="320.8" cy="1244.8" rx="4.6" ry="5.3" fill="#1ef8f8" stroke="#2a6a6a" stroke-width="1.0" /><ellipse cx="334.7" cy="1246.6" rx="4.6" ry="10.0" fill="#1ef8f8" stroke="#2a6a6a" stroke-width="1.0" /><ellipse cx="359.9" cy="1246.6" rx="5.1" ry="8.0" fill="#1ef8f8" stroke="#2a6a6a" stroke-width="1.0" /><ellipse cx="365.4" cy="1246.2" rx="6.9" ry="4.6" fill="#1ef8f8" stroke="#2a6a6a" stroke-width="1.0" /><ellipse cx="310.6" cy="1258.6" rx="7.8" ry="4.8" fill="#1ef8f8" stroke="#2a6a6a" stroke-width="1.0" /><ellipse cx="325.9" cy="1258.7" rx="4.5" ry="9.8" fill="#1ef8f8" stroke="#2a6a6a" stroke-width="1.0" /><ellipse cx="328.7" cy="1252.1" rx="8.8" ry="7.9" fill="#1ef8f8" stroke="#2a6a6a" stroke-width="1.0" /><ellipse cx="343.3" cy="1251.6" rx="7.9" ry="4.4" fill="#1ef8f8" stroke="#2a6a6a" stroke-width="1.0" /><ellipse cx="346.8" cy="1254.5" rx="4.1" ry="8.2" fill="#1ef8f8" stroke="#2a6a6a" stroke-width="1.0" /><ellipse cx="356.6" cy="1253.6" rx="7.5" ry="7.0" fill="#1ef8f8" stroke="#2a6a6a" stroke-width="1.0" /><ellipse cx="374.7" cy="1257.5" rx="8.4" ry="7.9" fill="#1ef8f8" stroke="#2a6a6a" stroke-width="1.0" /><ellipse cx="308.1" cy="1269.2" rx="7.4" ry="9.8" fill="#1ef8f8" stroke="#2a6a6a" stroke-width="1.0" /><ellipse cx="315.5" cy="1264.5" rx="7.7" ry="10.6" fill="#1ef8f8" stroke="#2a6a6a" stroke-width="1.0" /><ellipse cx="332.7" cy="1260.5" rx="7.0" ry="4.7" fill="#1ef8f8" stroke="#2a6a6a" stroke-width="1.0" /><ellipse cx="340.6" cy="1269.6" rx="4.6" ry="10.5" fill="#1ef8f8" stroke="#2a6a6a" stroke-width="1.0" /><ellipse cx="352.1" cy="1263.1" rx="5.0" ry="7.1" fill="#1ef8f8" stroke="#2a6a6a" stroke-width="1.0" /><ellipse cx="364.1" cy="1267.0" rx="4.6" ry="4.1" fill="#1ef8f8" stroke="#2a6a6a" stroke-width="1.0" /><ellipse cx="365.3" cy="1269.6" rx="4.9" ry="7.9" fill="#1ef8f8" stroke="#2a6a6a" stroke-width="1.0" /><ellipse cx="377.5" cy="1268.2" rx="5.9" ry="5.0" fill="#1ef8f8" stroke="#2a6a6a" stroke-width="1.0" /><ellipse cx="325.4" cy="1270.2" rx="5.7" ry="5.1" fill="#1ef8f8" stroke="#2a6a6a" stroke-width="1.0" /><ellipse cx="330.0" cy="1280.5" rx="8.0" ry="4.2" fill="#1ef8f8" stroke="#2a6a6a" stroke-width="1.0" /><ellipse cx="336.2" cy="1279.8" rx="7.4" ry="6.7" fill="#1ef8f8" stroke="#2a6a6a" stroke-width="1.0" /><ellipse cx="349.7" cy="1271.9" rx="8.2" ry="6.8" fill="#1ef8f8" stroke="#2a6a6a" stroke-width="1.0" /><ellipse cx="364.5" cy="1277.3" rx="4.4" ry="6.3" fill="#1ef8f8" stroke="#2a6a6a" stroke-width="1.0" /><ellipse cx="366.6" cy="1280.7" rx="6.9" ry="4.3" fill="#1ef8f8" stroke="#2a6a6a" stroke-width="1.0" /><ellipse cx="376.0" cy="1274.3" rx="6.3" ry="8.0" fill="#1ef8f8" stroke="#2a6a6a" stroke-width="1.0" /><ellipse cx="318.0" cy="1280.2" rx="6.3" ry="10.9" fill="#1ef8f8" stroke="#2a6a6a" stroke-width="1.0" /><ellipse cx="324.5" cy="1281.7" rx="7.4" ry="5.9" fill="#1ef8f8" stroke="#2a6a6a" stroke-width="1.0" /><ellipse cx="337.3" cy="1286.0" rx="5.3" ry="8.0" fill="#1ef8f8" stroke="#2a6a6a" stroke-width="1.0" /><ellipse cx="350.3" cy="1291.5" rx="9.0" ry="4.2" fill="#1ef8f8" stroke="#2a6a6a" stroke-width="1.0" /><ellipse cx="360.7" cy="1289.3" rx="8.4" ry="9.4" fill="#1ef8f8" stroke="#2a6a6a" stroke-width="1.0" /><ellipse cx="371.6" cy="1287.6" rx="5.8" ry="6.0" fill="#1ef8f8" stroke="#2a6a6a" stroke-width="1.0" /><ellipse cx="343.8" cy="1221.5" rx="36" ry="24.5" fill="#1ef8f8" stroke="#2a6a6a" stroke-width="1.05" /><ellipse cx="322.6" cy="1192.2" rx="15.3" ry="10.6" fill="#1ef8f8" stroke="#2a6a6a" stroke-width="1.05" /><ellipse cx="304.5" cy="1219.3" rx="18" ry="6.8" fill="#1ef8f8" stroke="#2a6a6a" stroke-width="1.05" /><ellipse cx="339.6" cy="1226.7" rx="27" ry="17" fill="#1ef8f8" stroke="#2a6a6a" stroke-width="1.05" /><ellipse cx="364.7" cy="1220.3" rx="7.4" ry="40.4" fill="#1ef8f8" stroke="#2a6a6a" stroke-width="1.05" /><ellipse cx="382.1" cy="1227.8" rx="20.2" ry="18.1" fill="#1ef8f8" stroke="#2a6a6a" stroke-width="1.05" /><ellipse cx="298.1" cy="1245.9" rx="10" ry="8" fill="#1ef8f8" stroke="#2a6a6a" stroke-width="1.05" /><ellipse cx="318.3" cy="1249.7" rx="21.3" ry="3.8" fill="#1ef8f8" stroke="#2a6a6a" stroke-width="1.05" /><ellipse cx="330" cy="1262" rx="8" ry="6" fill="#1ef8f8" stroke="#2a6a6a" stroke-width="1.05" /><ellipse cx="345" cy="1258" rx="10" ry="7" fill="#1ef8f8" stroke="#2a6a6a" stroke-width="1.05" /><ellipse cx="318" cy="1266" rx="4" ry="12" fill="#1ef8f8" stroke="#2a6a6a" stroke-width="1.05" /><ellipse cx="330" cy="1275" rx="5" ry="11" fill="#1ef8f8" stroke="#2a6a6a" stroke-width="1.05" /><ellipse cx="343" cy="1270" rx="7" ry="12" fill="#1ef8f8" stroke="#2a6a6a" stroke-width="1.05" /><ellipse cx="355" cy="1265" rx="6" ry="12" fill="#1ef8f8" stroke="#2a6a6a" stroke-width="1.05" /><ellipse cx="370" cy="1262" rx="8" ry="10" fill="#1ef8f8" stroke="#2a6a6a" stroke-width="1.05" /><ellipse cx="372" cy="1278" rx="9" ry="7" fill="#1ef8f8" stroke="#2a6a6a" stroke-width="1.05" /><ellipse cx="385" cy="1262" rx="10" ry="9" fill="#1ef8f8" stroke="#2a6a6a" stroke-width="1.05" /><ellipse cx="392" cy="1270" rx="5" ry="4" fill="#1ef8f8" stroke="#2a6a6a" stroke-width="1.05" /><ellipse cx="352" cy="1280" rx="6" ry="4" fill="#1ef8f8" stroke="#2a6a6a" stroke-width="1.05" /><ellipse cx="343.4" cy="1260.1" rx="3.6" ry="11" fill="#1ef8f8" stroke="#2a6a6a" stroke-width="1.05" /><ellipse cx="316.9" cy="1269.2" rx="3.6" ry="11.9" fill="#1ef8f8" stroke="#2a6a6a" stroke-width="1.05" /><ellipse cx="334.2" cy="1268.3" rx="3.5" ry="7" fill="#1ef8f8" stroke="#2a6a6a" stroke-width="1.05" /><ellipse cx="368.9" cy="1266.5" rx="3.5" ry="10" fill="#1ef8f8" stroke="#2a6a6a" stroke-width="1.05" /><ellipse cx="354.3" cy="1276.5" rx="4.5" ry="4.5" fill="#1ef8f8" stroke="#2a6a6a" stroke-width="1.05" /><ellipse cx="361" cy="1288.5" rx="9.6" ry="9.6" fill="#1ef8f8" stroke="#2a6a6a" stroke-width="1.05" /><ellipse cx="298.7" cy="1248.2" rx="8" ry="7" fill="#1ef8f8" stroke="#2a6a6a" stroke-width="1.05" /><ellipse cx="402.3" cy="1276.6" rx="12.8" ry="6.9" fill="#1ef8f8" stroke="#2a6a6a" stroke-width="1.05" /><ellipse cx="361" cy="1303" rx="5" ry="20" fill="#1ef8f8" stroke="#2a6a6a" stroke-width="1.05" /><ellipse cx="336" cy="1318" rx="5" ry="14" fill="#1ef8f8" stroke="#2a6a6a" stroke-width="1.05" /><ellipse cx="199.4" cy="1271.9" rx="18.2" ry="4" fill="#1ef8f8" stroke="#2a6a6a" stroke-width="1.05" /><ellipse cx="241.1" cy="1273" rx="20.8" ry="4" fill="#1ef8f8" stroke="#2a6a6a" stroke-width="1.05" /><ellipse cx="261.3" cy="1265.3" rx="14.8" ry="4" fill="#1ef8f8" stroke="#2a6a6a" stroke-width="1.05" /><ellipse cx="305.7" cy="1219.5" rx="18.8" ry="6" fill="#1ef8f8" stroke="#2a6a6a" stroke-width="1.05" /><ellipse cx="313.6" cy="1249.5" rx="15.8" ry="4" fill="#1ef8f8" stroke="#2a6a6a" stroke-width="1.05" /><ellipse cx="298.8" cy="1247.5" rx="10" ry="8" fill="#1ef8f8" stroke="#2a6a6a" stroke-width="1.05" /><ellipse cx="317.6" cy="1269.3" rx="4" ry="12" fill="#1ef8f8" stroke="#2a6a6a" stroke-width="1.05" /><ellipse cx="273.1" cy="1292.6" rx="3" ry="13.8" fill="#1ef8f8" stroke="#2a6a6a" stroke-width="1.05" /><ellipse cx="248.4" cy="1315.7" rx="12" ry="5" fill="#1ef8f8" stroke="#2a6a6a" stroke-width="1.05" /><ellipse cx="308" cy="1322" rx="5" ry="12" fill="#1ef8f8" stroke="#2a6a6a" stroke-width="1.05" /><ellipse cx="331.7" cy="1345" rx="12.8" ry="3.5" fill="#1ef8f8" stroke="#2a6a6a" stroke-width="1.05" /><ellipse cx="341.9" cy="1375.8" rx="10.9" ry="4" fill="#1ef8f8" stroke="#2a6a6a" stroke-width="1.05" /><ellipse cx="330" cy="1344.8" rx="11.9" ry="3" fill="#1ef8f8" stroke="#2a6a6a" stroke-width="1.05" /><ellipse cx="269" cy="1376" rx="4" ry="4" fill="#1ef8f8" stroke="#2a6a6a" stroke-width="1.05" /><ellipse cx="349.3" cy="1320" rx="10" ry="10" fill="#0000ff" stroke="#0000a0" stroke-width="0.6" /><rect x="100.6" y="1049.2" width="544.6999999999999" height="356.39999999999986" fill="none" stroke="#1a1a1a" stroke-width="1.3"/><line x1="94.6" y1="1405.4" x2="100.6" y2="1405.4" stroke="#333" stroke-width="1" /><line x1="97.1" y1="1396.7" x2="100.6" y2="1396.7" stroke="#333" stroke-width="1" /><line x1="97.1" y1="1388.1" x2="100.6" y2="1388.1" stroke="#333" stroke-width="1" /><line x1="97.1" y1="1379.4" x2="100.6" y2="1379.4" stroke="#333" stroke-width="1" /><line x1="97.1" y1="1370.7" x2="100.6" y2="1370.7" stroke="#333" stroke-width="1" /><line x1="97.1" y1="1362.1" x2="100.6" y2="1362.1" stroke="#333" stroke-width="1" /><line x1="97.1" y1="1353.4" x2="100.6" y2="1353.4" stroke="#333" stroke-width="1" /><line x1="97.1" y1="1344.7" x2="100.6" y2="1344.7" stroke="#333" stroke-width="1" /><line x1="97.1" y1="1336.1" x2="100.6" y2="1336.1" stroke="#333" stroke-width="1" /><line x1="97.1" y1="1327.4" x2="100.6" y2="1327.4" stroke="#333" stroke-width="1" /><line x1="94.6" y1="1318.7" x2="100.6" y2="1318.7" stroke="#333" stroke-width="1" /><line x1="97.1" y1="1310.1" x2="100.6" y2="1310.1" stroke="#333" stroke-width="1" /><line x1="97.1" y1="1301.4" x2="100.6" y2="1301.4" stroke="#333" stroke-width="1" /><line x1="97.1" y1="1292.7" x2="100.6" y2="1292.7" stroke="#333" stroke-width="1" /><line x1="97.1" y1="1284.1" x2="100.6" y2="1284.1" stroke="#333" stroke-width="1" /><line x1="97.1" y1="1275.4" x2="100.6" y2="1275.4" stroke="#333" stroke-width="1" /><line x1="97.1" y1="1266.7" x2="100.6" y2="1266.7" stroke="#333" stroke-width="1" /><line x1="97.1" y1="1258.1" x2="100.6" y2="1258.1" stroke="#333" stroke-width="1" /><line x1="97.1" y1="1249.4" x2="100.6" y2="1249.4" stroke="#333" stroke-width="1" /><line x1="97.1" y1="1240.7" x2="100.6" y2="1240.7" stroke="#333" stroke-width="1" /><line x1="94.6" y1="1232.1" x2="100.6" y2="1232.1" stroke="#333" stroke-width="1" /><line x1="97.1" y1="1223.4" x2="100.6" y2="1223.4" stroke="#333" stroke-width="1" /><line x1="97.1" y1="1214.7" x2="100.6" y2="1214.7" stroke="#333" stroke-width="1" /><line x1="97.1" y1="1206.1" x2="100.6" y2="1206.1" stroke="#333" stroke-width="1" /><line x1="97.1" y1="1197.4" x2="100.6" y2="1197.4" stroke="#333" stroke-width="1" /><line x1="97.1" y1="1188.7" x2="100.6" y2="1188.7" stroke="#333" stroke-width="1" /><line x1="97.1" y1="1180.1" x2="100.6" y2="1180.1" stroke="#333" stroke-width="1" /><line x1="97.1" y1="1171.4" x2="100.6" y2="1171.4" stroke="#333" stroke-width="1" /><line x1="97.1" y1="1162.7" x2="100.6" y2="1162.7" stroke="#333" stroke-width="1" /><line x1="97.1" y1="1154.1" x2="100.6" y2="1154.1" stroke="#333" stroke-width="1" /><line x1="94.6" y1="1145.4" x2="100.6" y2="1145.4" stroke="#333" stroke-width="1" /><line x1="97.1" y1="1136.7" x2="100.6" y2="1136.7" stroke="#333" stroke-width="1" /><line x1="97.1" y1="1128.1" x2="100.6" y2="1128.1" stroke="#333" stroke-width="1" /><line x1="97.1" y1="1119.4" x2="100.6" y2="1119.4" stroke="#333" stroke-width="1" /><line x1="97.1" y1="1110.7" x2="100.6" y2="1110.7" stroke="#333" stroke-width="1" /><line x1="97.1" y1="1102.1" x2="100.6" y2="1102.1" stroke="#333" stroke-width="1" /><line x1="97.1" y1="1093.4" x2="100.6" y2="1093.4" stroke="#333" stroke-width="1" /><line x1="97.1" y1="1084.7" x2="100.6" y2="1084.7" stroke="#333" stroke-width="1" /><line x1="97.1" y1="1076.1" x2="100.6" y2="1076.1" stroke="#333" stroke-width="1" /><line x1="97.1" y1="1067.4" x2="100.6" y2="1067.4" stroke="#333" stroke-width="1" /><line x1="94.6" y1="1058.7" x2="100.6" y2="1058.7" stroke="#333" stroke-width="1" /><line x1="100.8" y1="1405.6" x2="100.8" y2="1412.6" stroke="#333" stroke-width="1" /><line x1="111.3" y1="1405.6" x2="111.3" y2="1409.6" stroke="#333" stroke-width="1" /><line x1="121.9" y1="1405.6" x2="121.9" y2="1409.6" stroke="#333" stroke-width="1" /><line x1="132.4" y1="1405.6" x2="132.4" y2="1409.6" stroke="#333" stroke-width="1" /><line x1="143.0" y1="1405.6" x2="143.0" y2="1409.6" stroke="#333" stroke-width="1" /><line x1="153.5" y1="1405.6" x2="153.5" y2="1409.6" stroke="#333" stroke-width="1" /><line x1="164.0" y1="1405.6" x2="164.0" y2="1409.6" stroke="#333" stroke-width="1" /><line x1="174.6" y1="1405.6" x2="174.6" y2="1409.6" stroke="#333" stroke-width="1" /><line x1="185.1" y1="1405.6" x2="185.1" y2="1409.6" stroke="#333" stroke-width="1" /><line x1="195.7" y1="1405.6" x2="195.7" y2="1409.6" stroke="#333" stroke-width="1" /><line x1="206.2" y1="1405.6" x2="206.2" y2="1412.6" stroke="#333" stroke-width="1" /><line x1="216.7" y1="1405.6" x2="216.7" y2="1409.6" stroke="#333" stroke-width="1" /><line x1="227.3" y1="1405.6" x2="227.3" y2="1409.6" stroke="#333" stroke-width="1" /><line x1="237.8" y1="1405.6" x2="237.8" y2="1409.6" stroke="#333" stroke-width="1" /><line x1="248.3" y1="1405.6" x2="248.3" y2="1409.6" stroke="#333" stroke-width="1" /><line x1="258.8" y1="1405.6" x2="258.8" y2="1409.6" stroke="#333" stroke-width="1" /><line x1="269.4" y1="1405.6" x2="269.4" y2="1409.6" stroke="#333" stroke-width="1" /><line x1="279.9" y1="1405.6" x2="279.9" y2="1409.6" stroke="#333" stroke-width="1" /><line x1="290.4" y1="1405.6" x2="290.4" y2="1409.6" stroke="#333" stroke-width="1" /><line x1="301.0" y1="1405.6" x2="301.0" y2="1409.6" stroke="#333" stroke-width="1" /><line x1="311.5" y1="1405.6" x2="311.5" y2="1412.6" stroke="#333" stroke-width="1" /><line x1="321.9" y1="1405.6" x2="321.9" y2="1409.6" stroke="#333" stroke-width="1" /><line x1="332.3" y1="1405.6" x2="332.3" y2="1409.6" stroke="#333" stroke-width="1" /><line x1="342.6" y1="1405.6" x2="342.6" y2="1409.6" stroke="#333" stroke-width="1" /><line x1="353.0" y1="1405.6" x2="353.0" y2="1409.6" stroke="#333" stroke-width="1" /><line x1="363.4" y1="1405.6" x2="363.4" y2="1409.6" stroke="#333" stroke-width="1" /><line x1="373.8" y1="1405.6" x2="373.8" y2="1409.6" stroke="#333" stroke-width="1" /><line x1="384.2" y1="1405.6" x2="384.2" y2="1409.6" stroke="#333" stroke-width="1" /><line x1="394.5" y1="1405.6" x2="394.5" y2="1409.6" stroke="#333" stroke-width="1" /><line x1="404.9" y1="1405.6" x2="404.9" y2="1409.6" stroke="#333" stroke-width="1" /><line x1="415.3" y1="1405.6" x2="415.3" y2="1412.6" stroke="#333" stroke-width="1" /><line x1="425.8" y1="1405.6" x2="425.8" y2="1409.6" stroke="#333" stroke-width="1" /><line x1="436.4" y1="1405.6" x2="436.4" y2="1409.6" stroke="#333" stroke-width="1" /><line x1="446.9" y1="1405.6" x2="446.9" y2="1409.6" stroke="#333" stroke-width="1" /><line x1="457.4" y1="1405.6" x2="457.4" y2="1409.6" stroke="#333" stroke-width="1" /><line x1="468.0" y1="1405.6" x2="468.0" y2="1409.6" stroke="#333" stroke-width="1" /><line x1="478.5" y1="1405.6" x2="478.5" y2="1409.6" stroke="#333" stroke-width="1" /><line x1="489.0" y1="1405.6" x2="489.0" y2="1409.6" stroke="#333" stroke-width="1" /><line x1="499.5" y1="1405.6" x2="499.5" y2="1409.6" stroke="#333" stroke-width="1" /><line x1="510.1" y1="1405.6" x2="510.1" y2="1409.6" stroke="#333" stroke-width="1" /><line x1="520.6" y1="1405.6" x2="520.6" y2="1412.6" stroke="#333" stroke-width="1" /><line x1="531.2" y1="1405.6" x2="531.2" y2="1409.6" stroke="#333" stroke-width="1" /><line x1="541.7" y1="1405.6" x2="541.7" y2="1409.6" stroke="#333" stroke-width="1" /><line x1="552.3" y1="1405.6" x2="552.3" y2="1409.6" stroke="#333" stroke-width="1" /><line x1="562.9" y1="1405.6" x2="562.9" y2="1409.6" stroke="#333" stroke-width="1" /><line x1="573.5" y1="1405.6" x2="573.5" y2="1409.6" stroke="#333" stroke-width="1" /><line x1="584.0" y1="1405.6" x2="584.0" y2="1409.6" stroke="#333" stroke-width="1" /><line x1="594.6" y1="1405.6" x2="594.6" y2="1409.6" stroke="#333" stroke-width="1" /><line x1="605.2" y1="1405.6" x2="605.2" y2="1409.6" stroke="#333" stroke-width="1" /><line x1="615.7" y1="1405.6" x2="615.7" y2="1409.6" stroke="#333" stroke-width="1" /><line x1="626.3" y1="1405.6" x2="626.3" y2="1412.6" stroke="#333" stroke-width="1" /><text x="93" y="1066.6" font-size="22.5" text-anchor="end" fill="#111" textLength="45.4" lengthAdjust="spacingAndGlyphs" stroke="#111" stroke-width="0.25">0,04</text><text x="93" y="1153.3" font-size="22.5" text-anchor="end" fill="#111" textLength="45.4" lengthAdjust="spacingAndGlyphs" stroke="#111" stroke-width="0.25">0,03</text><text x="93" y="1240.0" font-size="22.5" text-anchor="end" fill="#111" textLength="45.4" lengthAdjust="spacingAndGlyphs" stroke="#111" stroke-width="0.25">0,02</text><text x="93" y="1326.6" font-size="22.5" text-anchor="end" fill="#111" textLength="45.4" lengthAdjust="spacingAndGlyphs" stroke="#111" stroke-width="0.25">0,01</text><text x="93" y="1413.3" font-size="22.5" text-anchor="end" fill="#111" stroke="#111" stroke-width="0.25">0</text><text x="99.3" y="1433.7" font-size="23.5" text-anchor="middle" fill="#111" stroke="#111" stroke-width="0.25">0</text><text x="204.7" y="1433.7" font-size="23.5" text-anchor="middle" fill="#111" textLength="29.6" lengthAdjust="spacingAndGlyphs" stroke="#111" stroke-width="0.25">0,1</text><text x="310.0" y="1433.7" font-size="23.5" text-anchor="middle" fill="#111" textLength="29.6" lengthAdjust="spacingAndGlyphs" stroke="#111" stroke-width="0.25">0,2</text><text x="413.8" y="1433.7" font-size="23.5" text-anchor="middle" fill="#111" textLength="29.6" lengthAdjust="spacingAndGlyphs" stroke="#111" stroke-width="0.25">0,3</text><text x="519.1" y="1433.7" font-size="23.5" text-anchor="middle" fill="#111" textLength="29.6" lengthAdjust="spacingAndGlyphs" stroke="#111" stroke-width="0.25">0,4</text><text x="624.8" y="1433.7" font-size="23.5" text-anchor="middle" fill="#111" textLength="29.6" lengthAdjust="spacingAndGlyphs" stroke="#111" stroke-width="0.25">0,5</text><text x="223.3" y="1466.8" font-size="26" text-anchor="start" fill="#000" textLength="299.7" lengthAdjust="spacingAndGlyphs" stroke="#000" stroke-width="0.35">Tensile strength / Density</text><text x="0" y="0" font-size="26" text-anchor="start" fill="#000" textLength="350" lengthAdjust="spacingAndGlyphs" stroke="#000" stroke-width="0.35" transform="translate(39.5,1398.7) rotate(-90)">Fracture toughness / Density</text><text x="15.5" y="1038.3" font-size="53" text-anchor="start" fill="#111" >c.</text><text x="189" y="1095.4" font-size="20" text-anchor="start" fill="#1a1a1a" textLength="156.5" lengthAdjust="spacingAndGlyphs" stroke="#111" stroke-width="0.3">Metals and alloys</text><text x="187.5" y="1173.8" font-size="17" text-anchor="start" fill="#1a1a1a" textLength="74.5" lengthAdjust="spacingAndGlyphs" >Aluminum</text><text x="118.5" y="1215.8" font-size="21" text-anchor="start" fill="#1a1a1a" textLength="70.5" lengthAdjust="spacingAndGlyphs" stroke="#111" stroke-width="0.3">Plastics</text><text x="527.6" y="1085.8" font-size="17.5" text-anchor="start" fill="#1a1a1a" textLength="81" lengthAdjust="spacingAndGlyphs" >Bio-2 CNT</text><text x="599.2" y="1246" font-size="17.5" text-anchor="start" fill="#1a1a1a" textLength="40.6" lengthAdjust="spacingAndGlyphs" >Bio-2</text><text x="417.4" y="1200.2" font-size="17" text-anchor="start" fill="#1a1a1a" textLength="63.3" lengthAdjust="spacingAndGlyphs" >Titanium</text><text x="435" y="1306.3" font-size="17.6" text-anchor="start" fill="#1a1a1a" textLength="114.8" lengthAdjust="spacingAndGlyphs" >Thermoplastics</text><text x="436" y="1348.2" font-size="17.6" text-anchor="start" fill="#1a1a1a" textLength="88.7" lengthAdjust="spacingAndGlyphs" >Thermosets</text><text x="425.6" y="1391.3" font-size="17.6" text-anchor="start" fill="#1a1a1a" textLength="96.1" lengthAdjust="spacingAndGlyphs" >Carbon steel</text><line x1="234.8" y1="1373.8999999999999" x2="450" y2="1311.3" stroke="rgba(255,255,255,0.85)" stroke-width="1.5" /><line x1="234.8" y1="1375.1" x2="450" y2="1312.5" stroke="#1a1a1a" stroke-width="1.2" /><line x1="180" y1="1400.8" x2="431" y2="1350.8" stroke="rgba(255,255,255,0.85)" stroke-width="1.5" /><line x1="180" y1="1402" x2="431" y2="1352" stroke="#1a1a1a" stroke-width="1.2" /><line x1="151.5" y1="1224.8" x2="129.6" y2="1360.5" stroke="#111" stroke-width="2.4" /><line x1="234.5" y1="1179.4" x2="271.2" y2="1228.8" stroke="#111" stroke-width="1.1" /><line x1="367.5" y1="1384" x2="421" y2="1386" stroke="#111" stroke-width="1.1" /><line x1="273.7" y1="1105" x2="296.7" y2="1186.6" stroke="#111" stroke-width="2.2" /><line x1="567" y1="1092.3" x2="564.3" y2="1137" stroke="#111" stroke-width="1.2" /><line x1="588.6" y1="1168.4" x2="614" y2="1228.8" stroke="#111" stroke-width="1.2" /><line x1="425" y1="1204.5" x2="399.8" y2="1218" stroke="#111" stroke-width="1.2" /><rect x="1.4" y="1.4" width="652.2" height="475.2" fill="none" stroke="#000" stroke-width="2.8"/><rect x="1.4" y="496.8" width="655.2" height="478" fill="none" stroke="#000" stroke-width="3"/><rect x="1.4" y="995.5" width="652.2" height="481.1" fill="none" stroke="#000" stroke-width="3"/></svg>
</body></html>
